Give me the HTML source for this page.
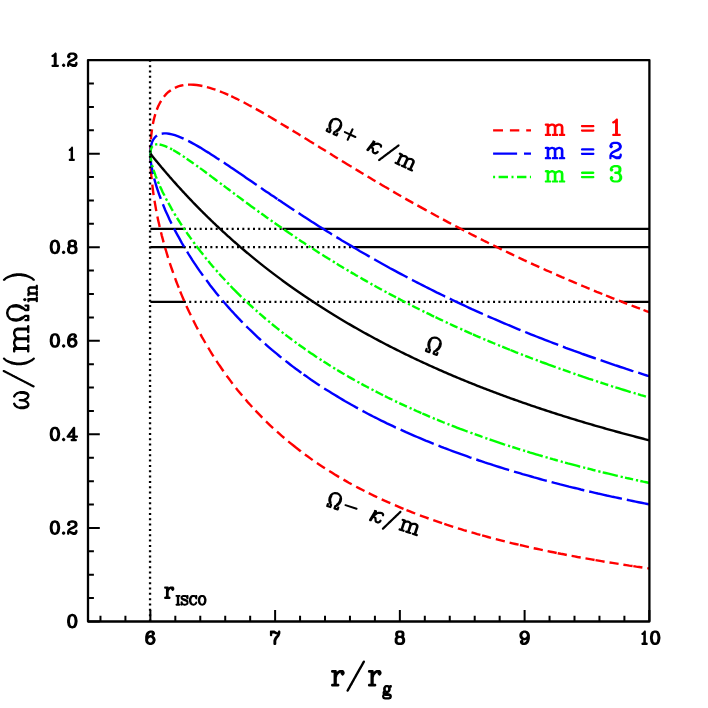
<!DOCTYPE html>
<html><head><meta charset="utf-8"><title>chart</title>
<style>html,body{margin:0;padding:0;background:#fff;width:708px;height:708px;overflow:hidden;font-family:"Liberation Sans",sans-serif}</style></head>
<body>
<svg width="708" height="708" viewBox="0 0 708 708" style="position:absolute;left:0;top:0">
<rect width="708" height="708" fill="#fff"/>
<path d="M100.47,621.50V615.70M125.42,621.50V615.70M150.37,621.50V609.90M175.32,621.50V615.70M200.27,621.50V615.70M225.22,621.50V615.70M250.17,621.50V615.70M275.12,621.50V609.90M300.07,621.50V615.70M325.01,621.50V615.70M349.96,621.50V615.70M374.91,621.50V615.70M399.86,621.50V609.90M424.81,621.50V615.70M449.76,621.50V615.70M474.71,621.50V615.70M499.66,621.50V615.70M524.61,621.50V609.90M549.55,621.50V615.70M574.50,621.50V615.70M599.45,621.50V615.70M624.40,621.50V615.70M649.35,621.50V609.90M88.00,621.50H99.80M88.00,598.11H93.90M88.00,574.72H93.90M88.00,551.33H93.90M88.00,527.93H99.80M88.00,504.54H93.90M88.00,481.15H93.90M88.00,457.76H93.90M88.00,434.37H99.80M88.00,410.98H93.90M88.00,387.58H93.90M88.00,364.19H93.90M88.00,340.80H99.80M88.00,317.41H93.90M88.00,294.02H93.90M88.00,270.62H93.90M88.00,247.23H99.80M88.00,223.84H93.90M88.00,200.45H93.90M88.00,177.06H93.90M88.00,153.67H99.80M88.00,130.27H93.90M88.00,106.88H93.90M88.00,83.49H93.90M88.00,60.10H99.80" stroke="#000" stroke-width="2" fill="none"/>
<path d="M183.90,301.95H622.34" stroke="#000" stroke-width="2.2" stroke-dasharray="2.0 3.33" fill="none"/>
<path d="M150.37,301.95H185.20M621.84,301.95H649.35" stroke="#000" stroke-width="2.3" fill="none"/>
<path d="M183.70,247.20H353.28" stroke="#000" stroke-width="2.2" stroke-dasharray="2.0 3.33" fill="none"/>
<path d="M150.37,247.20H185.20M352.78,247.20H649.35" stroke="#000" stroke-width="2.3" fill="none"/>
<path d="M183.70,228.80H282.97" stroke="#000" stroke-width="2.2" stroke-dasharray="2.0 3.33" fill="none"/>
<path d="M150.37,228.80H185.20M282.47,228.80H649.35" stroke="#000" stroke-width="2.3" fill="none"/>
<path d="M150.4,153.7L150.4,150.2L150.5,146.7L150.6,144.7M150.9,139.4L151.2,135.9L151.6,132.5L152.0,129.3M152.9,124.1L153.6,120.6L154.4,117.3L155.3,114.2M156.8,109.8L158.1,106.5L159.6,103.5L161.1,100.8M163.9,96.7L166.1,94.2L168.4,92.0L170.8,90.2M174.9,87.8L177.6,86.6L180.5,85.7L183.4,85.1M188.0,84.6L190.8,84.6L193.7,84.7L196.7,85.0L199.8,85.5L202.4,86.0M206.9,87.1L209.8,87.9L212.7,88.8L215.5,89.7M219.9,91.4L222.7,92.5L225.5,93.6L228.3,94.9M231.2,96.2L233.9,97.5L236.7,98.8L239.4,100.2M243.6,102.3L246.3,103.7L249.0,105.2L251.7,106.6M255.8,108.9L258.5,110.4L261.2,111.9L263.8,113.4M267.9,115.8L270.5,117.3L273.2,118.9L275.9,120.5L276.6,120.9M280.7,123.4L283.3,125.0L286.0,126.6L288.6,128.1M292.6,130.6L295.3,132.2L297.9,133.8L300.5,135.4M304.6,137.9L307.2,139.5L309.8,141.2L312.4,142.8L314.0,143.8M318.1,146.3L320.7,147.9L323.4,149.5L325.9,151.1M330.0,153.6L332.6,155.3L335.3,156.9L337.8,158.5M341.9,161.0L344.5,162.6L347.2,164.2L349.8,165.8L351.6,166.8M355.6,169.3L358.3,170.9L360.9,172.5L363.5,174.1M367.6,176.5L370.2,178.1L372.9,179.7L375.5,181.2M379.6,183.6L382.2,185.2L384.9,186.8L387.6,188.3L389.1,189.2M393.2,191.6L395.9,193.2L398.5,194.7L401.2,196.2M405.3,198.6L407.9,200.1L410.6,201.6L413.3,203.1M417.4,205.4L420.1,206.9L422.8,208.4L425.5,209.9L426.7,210.5M430.8,212.8L433.5,214.3L436.2,215.8L438.9,217.2M443.0,219.4L445.7,220.9L448.4,222.4L451.1,223.8M455.3,226.0L458.0,227.4L460.7,228.8L463.5,230.2L464.2,230.6M468.4,232.8L471.1,234.2L473.9,235.6L476.6,237.0M480.8,239.1L483.5,240.5L486.2,241.8L488.9,243.2M493.2,245.3L495.9,246.6L498.6,248.0L501.4,249.3L501.8,249.5M506.0,251.5L508.8,252.9L511.5,254.2L514.2,255.5M518.5,257.5L521.3,258.8L524.0,260.1L526.7,261.3M531.0,263.3L533.8,264.6L536.6,265.8L539.3,267.1M543.6,269.0L546.4,270.3L549.2,271.5L551.9,272.7M556.2,274.6L559.0,275.8L561.8,277.1L564.5,278.2M568.5,280.0L571.4,281.2L574.2,282.4L576.9,283.5M581.2,285.3L584.0,286.5L586.8,287.7L589.6,288.8M593.9,290.6L596.7,291.8L599.5,292.9L602.3,294.0M606.0,295.5L608.8,296.6L611.7,297.8L614.4,298.9M618.8,300.6L621.6,301.7L624.4,302.8L627.2,303.8M631.6,305.5L634.4,306.6L637.2,307.7L640.0,308.7M643.5,310.0L646.3,311.1L649.4,312.2" fill="none" stroke="#ff0000" stroke-width="2.4"/>
<path d="M150.4,153.7L150.4,157.1L150.5,160.5L150.6,163.0M150.8,168.6L151.1,172.0L151.3,175.4L151.7,179.1M152.3,184.7L152.7,188.1L153.1,191.5L153.6,195.2M154.5,200.7L155.1,204.1L155.7,207.5L156.3,211.1M157.4,216.6L158.1,219.9L158.9,223.3L159.7,226.9M161.0,232.3L161.8,235.6L162.7,238.9L163.6,242.4M165.1,247.8L166.1,251.0L167.1,254.3L168.1,257.8M169.8,263.1L170.9,266.3L172.0,269.5L173.2,272.9M175.1,278.1L176.2,281.3L177.4,284.4L178.8,287.8M180.2,291.5L181.5,294.6L182.8,297.7L184.2,301.0M186.4,306.0L187.8,309.1L189.2,312.1L190.8,315.3M193.2,320.2L194.7,323.2L196.2,326.2L197.9,329.4M200.4,334.2L202.0,337.1L203.7,340.0L205.4,343.0M208.2,347.7L209.9,350.5L211.6,353.3L213.5,356.3M216.4,360.9L218.2,363.6L220.1,366.3L221.9,369.0L223.5,371.3M226.6,375.7L228.6,378.3L230.5,380.9L232.6,383.7M235.9,387.9L237.9,390.4L240.0,392.9L242.2,395.6M245.6,399.6L247.7,402.1L249.9,404.5L252.2,407.0M255.5,410.6L257.7,412.9L259.9,415.2L262.3,417.7M266.0,421.4L268.3,423.6L270.6,425.8L273.1,428.1M277.0,431.6L279.3,433.7L281.7,435.8L284.3,438.0M288.2,441.4L290.7,443.4L293.1,445.3L295.6,447.3L298.1,449.2L300.6,451.2L300.8,451.4M304.9,454.5L307.5,456.3L310.0,458.1L312.7,460.1M316.9,463.0L319.5,464.7L322.1,466.4L324.9,468.3M329.2,471.0L331.8,472.6L334.4,474.3L337.1,475.9L339.1,477.1M343.5,479.6L346.1,481.1L348.8,482.7L351.7,484.3M356.2,486.7L358.9,488.1L361.6,489.5L364.5,491.0M368.7,493.1L371.5,494.5L374.2,495.8L377.2,497.3M381.7,499.4L384.5,500.7L387.3,501.9L390.3,503.2M394.9,505.2L397.7,506.4L400.5,507.6L403.5,508.9M406.5,510.1L409.3,511.2L412.2,512.3L415.2,513.5M419.9,515.3L422.7,516.3L425.6,517.4L428.6,518.5M433.3,520.2L436.2,521.2L439.0,522.1L442.1,523.2M444.3,523.9L447.2,524.9L450.1,525.8L453.2,526.8M457.9,528.3L460.8,529.2L463.6,530.1L466.8,531.0M471.5,532.4L474.4,533.2L477.3,534.1L480.4,534.9M482.1,535.4L485.0,536.2L487.9,537.0L491.0,537.8M495.8,539.1L498.8,539.8L501.7,540.6L504.8,541.4M509.6,542.6L512.5,543.3L515.4,544.0L518.6,544.7M519.9,545.0L522.8,545.7L525.8,546.4L528.9,547.1M533.7,548.2L536.7,548.8L539.6,549.4L542.8,550.1M547.6,551.1L550.5,551.7L553.5,552.3L556.7,553.0M557.7,553.2L560.7,553.8L563.6,554.3L566.8,555.0M571.6,555.9L574.6,556.4L577.5,557.0L580.7,557.5M585.5,558.4L588.5,558.9L591.4,559.4L594.6,560.0M595.5,560.1L598.5,560.6L601.4,561.1L604.6,561.7M609.5,562.5L612.4,562.9L615.4,563.4L618.6,563.9M623.4,564.7L626.4,565.1L629.3,565.6L632.6,566.0M633.3,566.1L636.3,566.6L639.2,567.0L642.4,567.5M647.3,568.1L648.3,568.3L649.4,568.4" fill="none" stroke="#ff0000" stroke-width="2.4"/>
<path d="M150.4,153.7L150.6,149.4L151.1,145.6L152.0,142.3L153.3,139.5L155.0,137.2L157.0,135.5M161.7,133.7L163.9,133.4L166.4,133.4L169.0,133.8L171.9,134.4L174.9,135.2L178.2,136.4L181.7,137.8L183.6,138.7M188.2,140.9L190.5,142.1L192.8,143.4L195.3,144.7L197.7,146.1L200.3,147.6L202.9,149.2L205.6,150.9L208.4,152.6L211.2,154.4L214.1,156.2L217.0,158.2L219.5,159.8M223.8,162.6L226.2,164.2L228.6,165.8L231.0,167.5L233.4,169.1L235.9,170.8L238.5,172.6L241.1,174.3L243.7,176.1L246.3,177.9L249.0,179.7L251.7,181.6L254.5,183.5L256.7,185.0M261.0,187.9L263.5,189.7L266.0,191.4L268.6,193.1L271.2,194.9L273.8,196.6L276.5,198.4L277.4,199.0M277.8,199.4L280.4,201.0L282.9,202.8L285.5,204.5L288.1,206.2L290.7,207.9L293.4,209.7L294.3,210.3M298.6,213.1L301.1,214.8L303.7,216.4L306.2,218.1L308.8,219.7L311.4,221.4L314.0,223.0L316.6,224.7L319.2,226.4L321.9,228.1L324.6,229.7L327.3,231.4L330.0,233.1L332.0,234.4M336.4,237.1L339.0,238.6L341.5,240.2L344.1,241.7L346.7,243.3L349.4,244.9L352.0,246.4L354.7,248.0L357.3,249.6L360.0,251.2L362.7,252.7L365.5,254.3L368.2,255.9L369.7,256.8M374.2,259.3L376.8,260.8L379.5,262.3L382.1,263.7L384.8,265.2L387.5,266.7L390.1,268.2L392.8,269.6L395.6,271.1L398.3,272.6L401.1,274.1L403.8,275.5L406.6,277.0L407.5,277.5M412.0,279.9L414.7,281.2L417.4,282.6L420.1,284.0L422.8,285.4L425.5,286.8L428.2,288.1L431.0,289.5L433.7,290.9L436.5,292.3L439.3,293.6L442.1,295.0L444.9,296.4L445.2,296.5M449.8,298.7L452.5,300.0L455.3,301.3L458.0,302.6L460.7,303.9L463.5,305.2L466.3,306.5L469.1,307.8L471.9,309.1L474.7,310.3L477.5,311.6L480.3,312.9L482.9,314.0M487.5,316.1L490.3,317.3L493.1,318.5L495.8,319.7L498.6,320.9L501.4,322.1L504.2,323.3L507.1,324.5L509.9,325.7L512.7,326.9L515.6,328.1L518.5,329.3L520.5,330.1M525.2,332.0L528.0,333.2L530.8,334.3L533.6,335.4L536.4,336.5L539.2,337.6L542.0,338.7L544.9,339.8L547.7,340.9L550.6,342.0L553.4,343.1L556.3,344.2L558.2,344.9M562.9,346.7L565.7,347.8L568.5,348.8L571.4,349.8L574.2,350.9L577.0,351.9L579.9,352.9L582.7,354.0L585.6,355.0L588.4,356.0L591.3,357.0L594.2,358.0L595.8,358.6M600.6,360.2L603.4,361.2L606.2,362.2L609.1,363.2L611.9,364.1L614.8,365.1L617.7,366.0L620.5,367.0L623.4,367.9L626.3,368.9L629.2,369.8L632.1,370.8L633.4,371.2M638.2,372.7L641.1,373.6L644.0,374.6L646.8,375.5L649.4,376.2" fill="none" stroke="#0000ff" stroke-width="2.4"/>
<path d="M150.4,153.7L150.4,156.6L150.7,159.8L151.0,163.1L151.6,166.6L152.3,170.3L153.1,174.0M154.2,178.5L155.0,181.5L155.9,184.6L156.9,187.8L158.0,191.1L159.1,194.4L160.4,197.8L160.8,198.9M162.9,204.2L164.1,207.2L165.3,210.2L166.7,213.2L168.1,216.3L169.5,219.4L171.0,222.5L171.6,223.6M174.1,228.6L175.5,231.4L177.1,234.3L178.7,237.2L180.3,240.1L181.9,243.1L183.7,246.0L184.2,247.0M187.1,251.7L188.8,254.5L190.5,257.2L192.2,259.9L194.0,262.6L195.9,265.4L197.7,268.1L199.6,270.9L201.6,273.6L203.0,275.7M206.3,280.1L208.2,282.6L210.1,285.2L212.1,287.8L214.1,290.3L216.2,292.9L218.3,295.4L219.0,296.3M222.5,300.4L224.5,302.8L226.6,305.2L228.7,307.6L230.8,310.0L233.0,312.3L235.1,314.7L237.4,317.1L239.6,319.4L241.9,321.8L242.6,322.5M246.3,326.3L248.6,328.5L250.9,330.7L253.2,332.9L255.5,335.1L257.8,337.3L260.2,339.5L261.0,340.2M264.9,343.7L267.3,345.8L269.6,347.8L272.0,349.9L274.4,351.9L276.9,353.9L279.3,356.0L281.4,357.6M285.5,360.9L288.0,362.8L290.4,364.7L292.9,366.6L295.4,368.5L297.9,370.3L300.5,372.2L301.4,372.9M303.5,374.4L306.0,376.1L308.5,377.9L311.1,379.7L313.7,381.4L316.3,383.2L318.9,384.9L319.8,385.5M324.2,388.4L326.7,390.0L329.3,391.6L331.9,393.2L334.5,394.8L337.2,396.4L339.8,398.0L342.5,399.6L345.2,401.2L347.9,402.7L350.6,404.3L353.3,405.8L356.1,407.4L358.0,408.4M362.5,410.9L365.1,412.3L367.8,413.7L370.5,415.1L373.2,416.5L375.9,417.8L378.6,419.2L381.3,420.6L384.1,421.9L386.9,423.3L389.7,424.6L392.5,425.9L395.3,427.3L395.9,427.5M400.6,429.7L403.3,430.9L406.0,432.2L408.8,433.4L411.6,434.6L414.4,435.8L417.2,437.0L420.0,438.2L422.8,439.4L425.6,440.6L428.5,441.7L431.4,442.9L433.7,443.8M438.5,445.7L441.2,446.8L444.0,447.9L446.8,448.9L449.6,450.0L452.5,451.1L455.3,452.1L458.2,453.2L461.0,454.2L463.9,455.2L466.8,456.2L469.7,457.3L471.5,457.9M476.3,459.5L479.1,460.5L481.9,461.4L484.7,462.4L487.6,463.3L490.4,464.2L493.3,465.2L496.2,466.1L499.1,467.0L502.0,467.9L504.9,468.8L507.8,469.7L509.1,470.1M514.0,471.6L516.8,472.4L519.7,473.2L522.5,474.1L525.4,474.9L528.3,475.7L531.2,476.5L534.1,477.4L537.0,478.2L539.9,479.0L542.9,479.8L545.8,480.6L546.8,480.8M551.6,482.1L554.5,482.9L557.4,483.6L560.3,484.4L563.2,485.1L566.1,485.8L569.0,486.6L571.9,487.3L574.9,488.0L577.8,488.7L580.8,489.5L583.7,490.2L584.3,490.3M589.2,491.5L592.1,492.1L595.0,492.8L597.9,493.5L600.8,494.1L603.8,494.8L606.7,495.5L609.6,496.1L612.6,496.8L615.5,497.4L618.5,498.0L621.5,498.7L621.9,498.8M626.8,499.8L629.7,500.4L632.7,501.0L635.6,501.6L638.5,502.2L641.4,502.8L644.4,503.4L647.4,504.0L649.4,504.4" fill="none" stroke="#0000ff" stroke-width="2.4"/>
<path d="M150.4,153.7L150.8,149.8L151.9,146.9L152.6,146.1M155.1,144.6L156.1,144.4L157.3,144.3M159.6,144.5L162.2,145.1L165.1,146.1L167.4,147.1M170.1,148.4L171.1,148.9L172.1,149.5M173.1,150.0L175.6,151.5L178.3,153.1L180.3,154.4M182.9,156.1L183.8,156.7L184.8,157.3M186.7,158.7L189.2,160.4L191.8,162.2L193.7,163.6M196.2,165.4L197.1,166.0L198.1,166.7M200.0,168.1L202.5,169.9L205.0,171.8L206.9,173.2M209.3,175.0L211.8,176.9L214.3,178.7L216.9,180.7L217.5,181.1M219.9,183.0L220.9,183.7L221.8,184.3M223.7,185.8L226.2,187.6L228.7,189.5L230.6,190.9M233.0,192.8L233.9,193.4L234.9,194.1M236.8,195.6L239.3,197.4L241.8,199.3L243.7,200.7M246.1,202.5L248.6,204.3L251.1,206.2L253.7,208.0L255.0,209.0M257.5,210.8L258.4,211.5L259.4,212.1M261.3,213.5L263.8,215.3L266.4,217.2L268.3,218.5M270.7,220.3L271.7,220.9L272.6,221.6M274.6,223.0L277.1,224.7L279.7,226.5L281.6,227.8M284.1,229.6L286.6,231.3L289.2,233.1L291.8,234.8L292.6,235.4M295.1,237.1L296.1,237.7L297.0,238.4M299.0,239.7L301.6,241.4L304.2,243.1L306.1,244.4M308.7,246.0L309.6,246.7L310.6,247.3M312.6,248.6L315.2,250.3L317.8,251.9L319.7,253.2M322.3,254.8L324.9,256.4L327.5,258.1L330.3,259.8M332.8,261.3L333.8,261.9L334.8,262.5M336.8,263.8L339.4,265.4L342.1,267.0L344.0,268.2M346.6,269.7L347.6,270.3L348.6,270.9M350.6,272.1L353.3,273.6L355.9,275.2L357.9,276.3M360.5,277.8L363.2,279.4L365.9,280.9L367.9,282.0M370.5,283.5L371.5,284.1L372.4,284.6M374.5,285.8L377.2,287.3L379.9,288.7L381.9,289.8M384.5,291.3L385.5,291.8L386.5,292.3M388.6,293.5L391.3,294.9L394.0,296.3L396.0,297.4M398.0,298.4L400.7,299.9L403.4,301.3L405.5,302.3M408.1,303.7L409.1,304.2L410.1,304.7M412.2,305.8L415.0,307.2L417.7,308.5L419.7,309.5M422.4,310.9L423.4,311.4L424.4,311.9M426.5,312.9L429.3,314.2L432.0,315.6L434.1,316.6M435.5,317.2L438.2,318.5L441.0,319.8L443.0,320.8M445.7,322.1L446.8,322.5L447.8,323.0M449.9,324.0L452.7,325.3L455.5,326.6L457.5,327.5M460.2,328.7L461.3,329.2L462.3,329.6M464.4,330.6L467.2,331.8L470.0,333.1L472.1,334.0M472.9,334.3L475.7,335.6L478.5,336.8L480.6,337.7M483.3,338.8L484.4,339.3L485.4,339.7M487.5,340.6L490.4,341.8L493.2,343.0L495.3,343.8M498.0,345.0L499.0,345.4L500.1,345.8M502.2,346.7L505.1,347.9L507.9,349.0L510.0,349.8M510.4,350.0L513.2,351.1L516.1,352.3L518.2,353.1M520.9,354.2L522.0,354.6L523.0,355.0M525.2,355.8L528.0,356.9L530.8,358.0L532.9,358.8M535.7,359.8L536.8,360.2L537.8,360.6M540.0,361.4L542.8,362.5L545.7,363.5L548.5,364.6L551.4,365.6L554.2,366.7L555.7,367.2M558.5,368.2L559.5,368.6L560.6,368.9M562.8,369.7L565.6,370.7L568.5,371.7L570.6,372.5M573.4,373.4L574.5,373.8L575.5,374.2M577.7,374.9L580.5,375.9L583.4,376.9L586.3,377.8L589.1,378.8L592.0,379.7L593.2,380.1M596.0,381.1L597.1,381.4L598.1,381.8M600.4,382.5L603.2,383.4L606.1,384.3L608.2,385.0M611.0,385.9L612.1,386.3L613.2,386.6M615.4,387.3L618.3,388.2L621.1,389.1L624.0,390.0L626.9,390.9L629.8,391.8L630.8,392.1M633.6,392.9L634.6,393.2L635.7,393.5M637.9,394.2L640.8,395.1L643.7,395.9L645.9,396.6" fill="none" stroke="#00ff00" stroke-width="2.4"/>
<path d="M150.4,153.7L150.5,156.8L151.1,160.3L151.3,161.7M152.1,165.0L152.4,166.1L152.8,167.4M153.5,169.9L154.6,172.9L155.7,176.1L156.7,178.6M157.9,181.6L158.4,182.7L158.9,183.9M159.9,186.2L161.3,189.1L162.7,192.2L164.3,195.2L164.4,195.6M165.9,198.5L166.5,199.6L167.1,200.6M168.3,202.9L169.9,205.7L171.5,208.6L172.8,210.8M174.4,213.5L175.0,214.6L175.7,215.6M177.0,217.8L178.7,220.5L180.5,223.3L181.8,225.4M183.6,228.0L184.3,229.0L184.9,230.0M186.4,232.1L188.2,234.8L190.1,237.4L191.5,239.4M193.4,242.0L194.1,242.9L194.8,243.9M196.3,245.9L198.3,248.5L200.2,251.0L202.3,253.6L203.2,254.8M205.2,257.3L205.9,258.2L206.7,259.1M208.3,261.0L210.3,263.5L212.4,266.0L214.0,267.8M216.0,270.2L216.8,271.0L217.6,271.9M219.2,273.8L221.4,276.2L223.6,278.5L225.2,280.3M227.3,282.5L228.1,283.4L228.9,284.3M230.6,286.0L232.8,288.3L235.1,290.6L237.3,292.8L239.6,295.1L241.3,296.8M243.6,298.9L244.4,299.7L245.2,300.5M247.0,302.2L249.3,304.4L251.7,306.5L253.4,308.1M255.7,310.2L256.6,310.9L257.4,311.7M259.3,313.3L261.7,315.4L264.1,317.5L265.8,319.0M268.2,320.9L269.1,321.7L270.0,322.4M271.8,324.0L274.3,326.0L276.7,327.9L279.3,330.0M281.7,331.8L282.6,332.6L283.5,333.3M285.4,334.7L287.9,336.6L290.4,338.5L292.2,339.9M294.7,341.7L295.6,342.4L296.5,343.1M298.5,344.5L301.0,346.3L303.6,348.1L305.5,349.4M308.0,351.1L310.5,352.9L313.1,354.6L315.7,356.4L317.1,357.3M319.6,358.9L320.5,359.5L321.5,360.2M323.5,361.4L326.1,363.1L328.7,364.8L330.7,366.0M333.2,367.6L334.2,368.2L335.2,368.8M337.2,370.0L339.9,371.6L342.5,373.2L344.5,374.3M347.1,375.8L349.7,377.4L352.4,378.9L354.8,380.2M357.4,381.7L358.4,382.2L359.4,382.8M361.4,383.9L364.1,385.4L366.8,386.8L368.9,387.9M371.5,389.3L372.5,389.8L373.5,390.3M375.6,391.4L378.3,392.8L381.1,394.2L383.1,395.2M384.9,396.1L387.6,397.5L390.4,398.8L392.4,399.8M395.1,401.1L396.1,401.6L397.1,402.1M399.3,403.1L402.0,404.4L404.8,405.7L406.9,406.6M409.6,407.9L410.6,408.3L411.6,408.8M413.7,409.7L416.5,411.0L419.3,412.2L421.4,413.1M422.3,413.5L425.1,414.7L427.9,415.9L430.0,416.8M432.8,417.9L433.8,418.4L434.8,418.8M437.0,419.7L439.8,420.8L442.6,422.0L444.7,422.8M447.5,423.9L448.5,424.3L449.5,424.7M451.7,425.6L454.6,426.7L457.4,427.8L460.2,428.9L463.1,429.9L466.0,431.0L467.6,431.6M470.4,432.6L471.4,433.0L472.5,433.4M474.7,434.2L477.5,435.2L480.4,436.2L482.5,437.0M485.3,438.0L486.3,438.3L487.4,438.7M489.6,439.5L492.4,440.4L495.3,441.4L498.2,442.4L501.0,443.3L503.9,444.3L505.2,444.7M508.0,445.6L509.0,445.9L510.1,446.3M512.3,447.0L515.2,447.9L518.1,448.8L520.2,449.5M523.0,450.4L524.1,450.7L525.1,451.0M527.3,451.7L530.2,452.6L533.1,453.4L536.0,454.3L538.9,455.2L541.8,456.0L542.7,456.3M545.5,457.1L546.6,457.4L547.7,457.7M549.9,458.3L552.8,459.2L555.7,460.0L557.9,460.6M560.7,461.4L561.7,461.7L562.8,462.0M565.0,462.6L567.9,463.4L570.8,464.1L573.8,464.9L576.7,465.7L579.6,466.5L580.2,466.6M583.1,467.4L584.1,467.6L585.2,467.9M587.5,468.5L590.4,469.2L593.3,470.0L595.5,470.5M598.3,471.2L599.4,471.5L600.5,471.7M602.7,472.3L605.6,473.0L608.5,473.7L611.5,474.4L614.4,475.1L617.3,475.8L617.8,475.9M620.6,476.6L621.7,476.8L622.8,477.1M625.0,477.6L628.0,478.3L630.9,478.9L633.1,479.4M635.9,480.1L637.0,480.3L638.1,480.5M640.3,481.0L643.3,481.7L646.2,482.3L649.4,483.0" fill="none" stroke="#00ff00" stroke-width="2.4"/>
<path d="M150.37,153.67 L150.37,153.67 L150.38,153.68 L150.39,153.69 L150.40,153.71 L150.42,153.73 L150.44,153.76 L150.47,153.79 L150.50,153.83 L150.53,153.87 L150.57,153.92 L150.61,153.97 L150.66,154.03 L150.71,154.09 L150.76,154.16 L150.82,154.23 L150.89,154.31 L150.95,154.39 L151.02,154.48 L151.10,154.57 L151.17,154.67 L151.26,154.77 L151.34,154.88 L151.43,154.99 L151.53,155.11 L151.62,155.23 L151.73,155.35 L151.83,155.49 L151.94,155.62 L152.06,155.77 L152.18,155.91 L152.30,156.06 L152.42,156.22 L152.55,156.38 L152.69,156.55 L152.83,156.72 L152.97,156.89 L153.12,157.08 L153.27,157.26 L153.42,157.45 L153.58,157.65 L153.74,157.85 L153.91,158.05 L154.08,158.26 L154.25,158.47 L154.43,158.69 L154.61,158.92 L154.80,159.15 L154.99,159.38 L155.18,159.62 L155.38,159.86 L155.58,160.11 L155.79,160.36 L156.00,160.62 L156.22,160.88 L156.43,161.14 L156.66,161.41 L156.88,161.69 L157.11,161.97 L157.35,162.25 L157.59,162.54 L157.83,162.83 L158.08,163.13 L158.33,163.43 L158.58,163.74 L158.84,164.05 L159.10,164.37 L159.37,164.69 L159.64,165.01 L159.91,165.34 L160.19,165.68 L160.47,166.01 L160.76,166.36 L161.05,166.70 L161.35,167.05 L161.64,167.41 L161.95,167.77 L162.25,168.13 L162.56,168.50 L162.88,168.87 L163.20,169.25 L163.52,169.63 L163.85,170.01 L164.18,170.40 L164.51,170.80 L164.85,171.19 L165.19,171.59 L165.54,172.00 L165.89,172.41 L166.25,172.82 L166.60,173.24 L166.97,173.66 L167.33,174.09 L167.70,174.52 L168.08,174.95 L168.46,175.39 L168.84,175.83 L169.23,176.27 L169.62,176.72 L170.01,177.18 L170.41,177.63 L170.81,178.09 L171.22,178.56 L171.63,179.02 L172.05,179.50 L172.47,179.97 L172.89,180.45 L173.32,180.93 L173.75,181.42 L174.18,181.91 L174.62,182.40 L175.06,182.90 L175.51,183.40 L175.96,183.90 L176.42,184.41 L176.87,184.92 L177.34,185.44 L177.80,185.96 L178.27,186.48 L178.75,187.00 L179.23,187.53 L179.71,188.06 L180.20,188.60 L180.69,189.13 L181.18,189.67 L181.68,190.22 L182.19,190.77 L182.69,191.32 L183.20,191.87 L183.72,192.43 L184.24,192.99 L184.76,193.55 L185.29,194.12 L185.82,194.69 L186.35,195.26 L186.89,195.83 L187.44,196.41 L187.98,196.99 L188.53,197.58 L189.09,198.17 L189.65,198.76 L190.21,199.35 L190.78,199.94 L191.35,200.54 L191.93,201.14 L192.50,201.75 L193.09,202.35 L193.67,202.96 L194.27,203.57 L194.86,204.19 L195.46,204.80 L196.06,205.42 L196.67,206.05 L197.28,206.67 L197.90,207.30 L198.52,207.93 L199.14,208.56 L199.77,209.19 L200.40,209.83 L201.03,210.47 L201.67,211.11 L202.32,211.76 L202.96,212.40 L203.61,213.05 L204.27,213.70 L204.93,214.35 L205.59,215.01 L206.26,215.67 L206.93,216.33 L207.61,216.99 L208.29,217.65 L208.97,218.32 L209.66,218.98 L210.35,219.65 L211.04,220.33 L211.74,221.00 L212.45,221.68 L213.15,222.35 L213.86,223.03 L214.58,223.71 L215.30,224.40 L216.02,225.08 L216.75,225.77 L217.48,226.46 L218.22,227.15 L218.96,227.84 L219.70,228.53 L220.45,229.23 L221.20,229.93 L221.95,230.63 L222.71,231.33 L223.48,232.03 L224.24,232.73 L225.02,233.44 L225.79,234.14 L226.57,234.85 L227.35,235.56 L228.14,236.27 L228.93,236.98 L229.73,237.70 L230.53,238.41 L231.33,239.13 L232.14,239.84 L232.95,240.56 L233.77,241.28 L234.59,242.00 L235.41,242.73 L236.24,243.45 L237.07,244.17 L237.91,244.90 L238.75,245.63 L239.59,246.36 L240.44,247.09 L241.29,247.82 L242.14,248.55 L243.00,249.28 L243.87,250.01 L244.73,250.75 L245.61,251.48 L246.48,252.22 L247.36,252.96 L248.25,253.69 L249.13,254.43 L250.03,255.17 L250.92,255.91 L251.82,256.65 L252.72,257.39 L253.63,258.14 L254.54,258.88 L255.46,259.62 L256.38,260.37 L257.30,261.11 L258.23,261.86 L259.16,262.61 L260.10,263.35 L261.04,264.10 L261.98,264.85 L262.93,265.60 L263.88,266.35 L264.84,267.10 L265.80,267.85 L266.76,268.60 L267.73,269.35 L268.70,270.10 L269.68,270.85 L270.66,271.61 L271.64,272.36 L272.63,273.11 L273.62,273.87 L274.62,274.62 L275.62,275.37 L276.62,276.13 L277.63,276.88 L278.64,277.64 L279.66,278.39 L280.68,279.15 L281.70,279.90 L282.73,280.66 L283.76,281.41 L284.80,282.17 L285.84,282.92 L286.88,283.68 L287.93,284.43 L288.98,285.19 L290.04,285.95 L291.10,286.70 L292.16,287.46 L293.23,288.21 L294.30,288.97 L295.38,289.73 L296.46,290.48 L297.54,291.24 L298.63,291.99 L299.72,292.75 L300.82,293.50 L301.92,294.26 L303.02,295.01 L304.13,295.77 L305.24,296.52 L306.36,297.27 L307.48,298.03 L308.60,298.78 L309.73,299.53 L310.86,300.29 L312.00,301.04 L313.14,301.79 L314.28,302.55 L315.43,303.30 L316.59,304.05 L317.74,304.80 L318.90,305.55 L320.07,306.30 L321.23,307.05 L322.41,307.80 L323.58,308.55 L324.76,309.30 L325.95,310.04 L327.14,310.79 L328.33,311.54 L329.52,312.28 L330.72,313.03 L331.93,313.78 L333.14,314.52 L334.35,315.27 L335.57,316.01 L336.79,316.75 L338.01,317.49 L339.24,318.24 L340.47,318.98 L341.71,319.72 L342.95,320.46 L344.19,321.20 L345.44,321.94 L346.69,322.67 L347.95,323.41 L349.21,324.15 L350.48,324.88 L351.74,325.62 L353.02,326.35 L354.29,327.09 L355.57,327.82 L356.86,328.55 L358.15,329.28 L359.44,330.01 L360.74,330.74 L362.04,331.47 L363.34,332.20 L364.65,332.93 L365.96,333.65 L367.28,334.38 L368.60,335.10 L369.92,335.82 L371.25,336.55 L372.58,337.27 L373.92,337.99 L375.26,338.71 L376.61,339.43 L377.96,340.15 L379.31,340.86 L380.66,341.58 L382.03,342.30 L383.39,343.01 L384.76,343.72 L386.13,344.44 L387.51,345.15 L388.89,345.86 L390.27,346.57 L391.66,347.28 L393.05,347.98 L394.45,348.69 L395.85,349.39 L397.26,350.10 L398.67,350.80 L400.08,351.50 L401.50,352.21 L402.92,352.91 L404.34,353.60 L405.77,354.30 L407.20,355.00 L408.64,355.69 L410.08,356.39 L411.52,357.08 L412.97,357.77 L414.43,358.46 L415.88,359.15 L417.34,359.84 L418.81,360.53 L420.28,361.22 L421.75,361.90 L423.23,362.59 L424.71,363.27 L426.19,363.95 L427.68,364.63 L429.18,365.31 L430.67,365.99 L432.17,366.67 L433.68,367.34 L435.19,368.02 L436.70,368.69 L438.22,369.36 L439.74,370.03 L441.26,370.70 L442.79,371.37 L444.33,372.04 L445.86,372.71 L447.40,373.37 L448.95,374.03 L450.50,374.70 L452.05,375.36 L453.61,376.02 L455.17,376.67 L456.73,377.33 L458.30,377.99 L459.88,378.64 L461.45,379.30 L463.03,379.95 L464.62,380.60 L466.21,381.25 L467.80,381.90 L469.40,382.54 L471.00,383.19 L472.60,383.83 L474.21,384.47 L475.83,385.12 L477.44,385.76 L479.06,386.40 L480.69,387.03 L482.32,387.67 L483.95,388.30 L485.59,388.94 L487.23,389.57 L488.88,390.20 L490.53,390.83 L492.18,391.46 L493.84,392.09 L495.50,392.71 L497.16,393.33 L498.83,393.96 L500.50,394.58 L502.18,395.20 L503.86,395.82 L505.55,396.44 L507.24,397.05 L508.93,397.67 L510.63,398.28 L512.33,398.89 L514.04,399.50 L515.74,400.11 L517.46,400.72 L519.18,401.32 L520.90,401.93 L522.62,402.53 L524.35,403.14 L526.08,403.74 L527.82,404.34 L529.56,404.93 L531.31,405.53 L533.06,406.13 L534.81,406.72 L536.57,407.31 L538.33,407.90 L540.10,408.49 L541.87,409.08 L543.64,409.67 L545.42,410.25 L547.20,410.84 L548.98,411.42 L550.77,412.00 L552.57,412.58 L554.36,413.16 L556.17,413.74 L557.97,414.31 L559.78,414.89 L561.59,415.46 L563.41,416.03 L565.23,416.60 L567.06,417.17 L568.89,417.74 L570.72,418.30 L572.56,418.87 L574.40,419.43 L576.25,419.99 L578.10,420.55 L579.95,421.11 L581.81,421.67 L583.67,422.23 L585.54,422.78 L587.40,423.33 L589.28,423.89 L591.16,424.44 L593.04,424.99 L594.92,425.53 L596.81,426.08 L598.71,426.63 L600.60,427.17 L602.51,427.71 L604.41,428.25 L606.32,428.79 L608.24,429.33 L610.15,429.87 L612.08,430.40 L614.00,430.94 L615.93,431.47 L617.86,432.00 L619.80,432.53 L621.74,433.06 L623.69,433.58 L625.64,434.11 L627.59,434.63 L629.55,435.16 L631.51,435.68 L633.48,436.20 L635.45,436.72 L637.42,437.23 L639.40,437.75 L641.38,438.26 L643.37,438.78 L645.36,439.29 L647.35,439.80 L649.35,440.31" fill="none" stroke="#000" stroke-width="2.4"/>
<path d="M150.05,621.50V60.10" stroke="#000" stroke-width="2.3" stroke-dasharray="2.0 3.33" fill="none"/>
<rect x="88.0" y="60.1" width="561.4" height="561.4" fill="none" stroke="#000" stroke-width="2.3" stroke-linejoin="round"/>
<path d="M493.1,130.35H531" stroke="#ff0000" stroke-width="2.4" stroke-dasharray="9.9 6.9 9.4 6.9 9" fill="none"/>
<path d="M493.1,153.6H531" stroke="#0000ff" stroke-width="2.4" stroke-dasharray="24 6.9" fill="none"/>
<path d="M493.1,177H531" stroke="#00ff00" stroke-width="2.4" stroke-dasharray="2 3.5 9.4 3.5" fill="none"/>
<path d="M14.5,-2.4L14.4,-2.3L14.1,-2.3L13.9,-2.2L13.1,-1.4L13.1,-1.4L12.9,-1.2L12.8,-0.9L12.8,-0.6L12.8,-0.6L12.8,-0.5L12.8,-0.2L13.1,0.2L13.9,1.0L14.1,1.1L14.4,1.1L14.5,1.2L14.6,1.1L14.9,1.1L15.4,0.8L16.1,0.1L16.2,-0.2L16.2,-0.5L16.2,-0.6L16.2,-0.6L16.2,-0.9L16.1,-1.2L15.9,-1.4L15.9,-1.4L15.1,-2.2L14.9,-2.3L14.6,-2.3ZM19.9,-12.8L19.4,-12.4L18.9,-11.9L18.9,-11.8L18.6,-11.5L18.0,-10.2L18.0,-9.9L17.9,-9.9L17.9,-9.2L18.0,-9.2L18.0,-8.9L18.1,-8.6L19.1,-7.7L19.4,-7.6L19.7,-7.6L19.8,-7.5L19.8,-7.6L20.1,-7.6L20.4,-7.7L21.3,-8.6L21.4,-8.9L21.4,-9.2L21.5,-9.2L21.4,-9.3L21.4,-9.6L21.1,-10.1L20.8,-10.4L21.1,-10.6L22.2,-11.0L24.1,-11.0L24.8,-10.6L25.2,-10.2L25.3,-9.9L25.5,-9.6L25.5,-9.0L25.1,-8.3L23.8,-7.4L20.4,-5.8L20.1,-5.5L18.9,-4.3L18.7,-3.9L18.6,-3.9L18.0,-2.2L18.0,-1.8L17.9,-1.8L17.9,0.0L18.0,0.1L18.0,0.4L18.1,0.6L18.5,1.0L18.8,1.1L19.1,1.1L19.1,1.2L19.2,1.1L19.5,1.1L19.8,1.0L20.1,0.6L20.2,0.4L20.3,-0.5L20.4,-0.6L20.6,-0.6L20.7,-0.4L20.9,-0.4L21.0,-0.2L23.4,1.1L23.7,1.1L23.8,1.2L26.1,1.2L26.2,1.1L26.5,1.1L26.8,1.0L27.7,0.1L28.3,-1.1L28.4,-1.7L28.4,-1.8L28.4,-2.9L28.4,-2.9L28.4,-3.2L28.2,-3.5L27.9,-3.9L27.6,-4.0L27.3,-4.0L27.2,-4.1L27.2,-4.0L26.9,-4.0L26.6,-3.9L26.2,-3.5L26.1,-3.2L26.1,-2.9L26.1,-2.9L26.1,-2.2L25.2,-1.8L24.0,-1.8L23.0,-2.2L22.9,-2.2L22.7,-2.3L22.6,-2.3L22.4,-2.4L22.2,-2.4L22.1,-2.6L21.9,-2.6L21.8,-2.7L21.6,-2.7L21.4,-2.8L20.9,-2.9L20.9,-2.9L21.6,-3.7L22.6,-4.2L22.8,-4.2L22.9,-4.3L23.1,-4.3L23.2,-4.4L23.4,-4.4L23.6,-4.6L23.7,-4.6L23.9,-4.7L24.0,-4.7L24.2,-4.8L24.3,-4.8L24.5,-4.9L25.2,-5.2L25.5,-5.4L25.6,-5.4L27.3,-6.5L27.3,-6.6L27.8,-7.0L28.4,-8.3L28.4,-8.6L28.4,-8.7L28.4,-9.9L28.4,-9.9L28.3,-10.4L27.8,-11.6L26.8,-12.6L24.8,-13.3L24.4,-13.3L24.4,-13.4L22.1,-13.4L22.0,-13.3L21.6,-13.3ZM6.8,-13.3L6.4,-13.3L6.4,-13.4L6.3,-13.3L6.0,-13.3L5.8,-13.2L4.0,-11.4L2.9,-10.9L2.5,-10.5L2.4,-10.2L2.4,-9.9L2.3,-9.9L2.4,-9.8L2.4,-9.5L2.5,-9.2L2.9,-8.9L3.1,-8.8L3.4,-8.8L3.5,-8.7L3.6,-8.8L4.1,-8.8L4.5,-9.1L4.6,-9.0L4.6,-1.2L4.6,-1.2L3.5,-1.2L3.4,-1.1L3.1,-1.1L2.9,-1.0L2.5,-0.6L2.4,-0.4L2.4,-0.1L2.3,0.0L2.4,0.1L2.4,0.4L2.5,0.6L2.9,1.0L3.1,1.1L3.4,1.1L3.5,1.2L8.7,1.2L8.8,1.1L9.1,1.1L9.3,1.0L9.7,0.6L9.8,0.4L9.8,0.1L9.9,0.0L9.8,-0.1L9.8,-0.4L9.7,-0.6L9.3,-1.0L9.1,-1.1L8.8,-1.1L8.7,-1.2L7.6,-1.2L7.6,-1.2L7.6,-12.2L7.5,-12.2L7.5,-12.6L7.4,-12.8L7.0,-13.2Z" fill="#000" fill-rule="evenodd" transform="translate(49.10,65.85)"/>
<path d="M6.8,-13.3L6.4,-13.3L6.4,-13.4L6.3,-13.3L6.0,-13.3L5.8,-13.2L4.0,-11.4L2.9,-10.9L2.5,-10.5L2.4,-10.2L2.4,-9.9L2.3,-9.9L2.4,-9.8L2.4,-9.5L2.5,-9.2L2.9,-8.9L3.1,-8.8L3.4,-8.8L3.5,-8.7L3.6,-8.8L4.1,-8.8L4.5,-9.1L4.6,-9.0L4.6,-1.2L4.6,-1.2L3.5,-1.2L3.4,-1.1L3.1,-1.1L2.9,-1.0L2.5,-0.6L2.4,-0.4L2.4,-0.1L2.3,0.0L2.4,0.1L2.4,0.4L2.5,0.6L2.9,1.0L3.1,1.1L3.4,1.1L3.5,1.2L8.7,1.2L8.8,1.1L9.1,1.1L9.3,1.0L9.7,0.6L9.8,0.4L9.8,0.1L9.9,0.0L9.8,-0.1L9.8,-0.4L9.7,-0.6L9.3,-1.0L9.1,-1.1L8.8,-1.1L8.7,-1.2L7.6,-1.2L7.6,-1.2L7.6,-12.2L7.5,-12.2L7.5,-12.6L7.4,-12.8L7.0,-13.2Z" fill="#000" fill-rule="evenodd" transform="translate(66.80,159.87) scale(0.82,1)"/>
<path d="M14.5,-2.4L14.4,-2.3L14.1,-2.3L13.9,-2.2L13.1,-1.4L13.1,-1.4L12.9,-1.2L12.8,-0.9L12.8,-0.6L12.8,-0.6L12.8,-0.5L12.8,-0.2L13.1,0.2L13.9,1.0L14.1,1.1L14.4,1.1L14.5,1.2L14.6,1.1L14.9,1.1L15.4,0.8L16.1,0.1L16.2,-0.2L16.2,-0.5L16.2,-0.6L16.2,-0.6L16.2,-0.9L16.1,-1.2L15.9,-1.4L15.9,-1.4L15.1,-2.2L14.9,-2.3L14.6,-2.3ZM21.6,-13.3L19.7,-12.6L19.2,-12.1L18.7,-11.1L18.6,-10.5L18.6,-10.4L18.6,-8.7L18.6,-8.6L18.6,-8.3L18.8,-7.9L19.2,-7.1L19.2,-7.0L18.9,-6.7L18.9,-6.6L18.6,-6.2L18.0,-5.0L18.0,-4.7L17.9,-4.6L17.9,-2.3L18.0,-2.2L18.0,-1.9L18.6,-0.7L18.9,-0.4L18.9,-0.3L19.4,0.2L19.9,0.6L21.6,1.1L22.0,1.1L22.1,1.2L24.4,1.2L24.4,1.1L24.8,1.1L26.8,0.4L27.8,-0.6L28.4,-1.9L28.4,-2.2L28.4,-2.3L28.4,-4.6L28.4,-4.7L28.4,-5.0L28.3,-5.1L28.3,-5.2L28.1,-5.8L27.9,-5.9L27.7,-6.4L27.2,-7.0L27.4,-7.5L27.4,-7.6L27.8,-8.3L27.8,-8.6L27.9,-8.7L27.9,-10.4L27.8,-10.5L27.8,-10.8L27.1,-12.2L26.8,-12.6L26.5,-12.8L24.8,-13.3L24.4,-13.3L24.4,-13.4L22.1,-13.4L22.0,-13.3ZM21.6,-5.4L22.2,-5.8L24.1,-5.8L24.9,-5.4L25.0,-5.2L25.5,-4.4L25.5,-2.6L25.1,-1.9L24.8,-1.5L24.1,-1.2L22.3,-1.2L21.6,-1.6L21.3,-1.8L20.9,-2.6L20.9,-4.4L21.2,-5.1ZM21.8,-10.7L22.3,-11.0L24.1,-11.0L24.6,-10.8L24.7,-10.6L24.9,-10.1L24.9,-9.0L24.7,-8.5L24.6,-8.4L24.1,-8.1L22.4,-8.1L21.9,-8.4L21.7,-8.6L21.5,-8.9L21.5,-10.2ZM5.2,-13.4L5.2,-13.3L4.8,-13.3L2.9,-12.6L2.4,-12.2L1.3,-10.5L1.1,-10.1L1.1,-9.8L1.1,-9.8L1.1,-9.5L1.0,-9.4L1.0,-9.2L0.9,-9.1L0.9,-8.9L0.9,-8.8L0.9,-8.6L0.8,-8.5L0.8,-8.2L0.8,-8.2L0.8,-7.9L0.7,-7.9L0.7,-7.6L0.6,-7.2L0.6,-7.1L0.6,-6.9L0.6,-5.2L0.6,-5.1L0.6,-4.9L0.6,-4.9L0.6,-4.6L0.7,-4.6L0.7,-4.3L0.8,-4.2L0.8,-4.0L0.8,-3.9L0.8,-3.7L0.9,-3.6L0.9,-3.4L0.9,-3.3L0.9,-3.1L1.0,-3.0L1.0,-2.8L1.1,-2.4L1.1,-2.1L1.3,-1.7L2.4,0.0L2.9,0.4L3.1,0.6L4.8,1.1L5.2,1.1L5.2,1.2L6.4,1.2L6.4,1.1L6.8,1.1L8.8,0.4L9.1,0.1L10.2,-1.6L10.2,-1.8L10.5,-2.2L10.5,-2.5L10.6,-2.6L10.6,-2.8L10.6,-2.9L10.6,-3.1L10.7,-3.2L10.7,-3.4L10.8,-3.5L10.8,-3.8L10.8,-3.8L10.8,-4.1L10.9,-4.1L10.9,-4.4L11.0,-4.8L11.0,-5.2L11.1,-5.2L11.1,-6.9L11.0,-7.0L11.0,-7.4L10.9,-7.5L10.9,-7.8L10.9,-7.8L10.9,-8.1L10.8,-8.1L10.8,-8.4L10.8,-8.4L10.8,-8.7L10.7,-8.8L10.5,-9.9L10.4,-10.1L10.2,-10.6L9.1,-12.2L8.8,-12.6L8.5,-12.8L6.8,-13.3L6.4,-13.3L6.4,-13.4ZM5.4,-11.0L6.1,-11.0L6.8,-10.7L7.2,-10.2L7.6,-9.3L7.6,-9.1L7.7,-9.0L7.7,-8.8L7.8,-8.7L7.8,-8.4L7.8,-8.4L7.8,-8.1L7.9,-8.1L7.9,-7.8L7.9,-7.8L7.9,-7.5L8.1,-7.1L8.1,-5.1L8.0,-5.0L8.0,-4.8L7.9,-4.7L7.9,-4.4L7.9,-4.4L7.9,-4.1L7.8,-4.1L7.6,-2.9L7.2,-1.9L6.7,-1.4L6.2,-1.2L5.4,-1.2L4.8,-1.5L4.4,-1.9L4.0,-2.8L4.0,-3.0L3.9,-3.1L3.9,-3.3L3.9,-3.4L3.9,-3.6L3.8,-3.7L3.8,-3.9L3.8,-4.0L3.8,-4.2L3.7,-4.3L3.7,-4.6L3.6,-4.6L3.6,-4.9L3.5,-5.2L3.5,-6.9L3.6,-7.0L3.6,-7.2L3.6,-7.3L3.6,-7.6L3.7,-7.6L3.7,-7.9L3.8,-7.9L3.8,-8.2L3.8,-8.2L4.0,-9.4L4.4,-10.3L4.8,-10.7Z" fill="#000" fill-rule="evenodd" transform="translate(49.10,252.98)"/>
<path d="M14.5,-2.4L14.4,-2.3L14.1,-2.3L13.9,-2.2L13.1,-1.4L13.1,-1.4L12.9,-1.2L12.8,-0.9L12.8,-0.6L12.8,-0.6L12.8,-0.5L12.8,-0.2L13.1,0.2L13.9,1.0L14.1,1.1L14.4,1.1L14.5,1.2L14.6,1.1L14.9,1.1L15.4,0.8L16.1,0.1L16.2,-0.2L16.2,-0.5L16.2,-0.6L16.2,-0.6L16.2,-0.9L16.1,-1.2L15.9,-1.4L15.9,-1.4L15.1,-2.2L14.9,-2.3L14.6,-2.3ZM25.3,-13.3L25.0,-13.3L24.9,-13.4L23.2,-13.4L23.1,-13.3L22.8,-13.3L20.8,-12.6L19.2,-10.9L18.7,-9.9L18.7,-9.7L18.6,-9.6L18.5,-9.4L18.5,-9.2L18.4,-9.1L18.4,-8.9L18.4,-8.9L18.4,-8.7L18.3,-8.6L18.3,-8.4L18.2,-8.4L18.2,-8.2L18.2,-8.1L18.2,-7.9L18.0,-7.4L18.0,-7.0L17.9,-6.9L17.9,-3.5L18.0,-3.4L18.0,-3.1L18.6,-1.6L18.6,-1.4L18.7,-1.3L18.8,-1.1L18.9,-0.9L18.9,-0.9L20.2,0.4L22.2,1.1L22.6,1.1L22.6,1.2L23.8,1.2L23.8,1.1L24.2,1.1L26.1,0.4L26.4,0.2L27.7,-1.1L27.9,-1.5L28.4,-3.0L28.4,-3.4L28.4,-3.5L28.4,-4.6L27.9,-6.1L27.5,-6.7L26.4,-7.8L26.3,-7.8L26.1,-7.9L25.9,-8.1L25.9,-8.1L26.1,-8.1L26.2,-8.1L26.5,-8.1L26.8,-8.2L27.7,-9.2L27.8,-9.5L27.8,-9.8L27.9,-9.9L27.8,-10.8L27.1,-12.2L26.8,-12.6ZM23.5,-6.4L24.2,-6.0L25.1,-5.1L25.5,-3.9L25.5,-3.6L25.1,-2.4L24.2,-1.5L23.6,-1.2L22.9,-1.2L22.2,-1.5L21.4,-2.3L20.9,-3.6L20.9,-4.0L21.3,-5.1L22.1,-5.9ZM24.9,-10.9L24.5,-10.5L24.4,-10.2L24.4,-9.9L24.3,-9.9L24.4,-9.8L24.4,-9.5L24.7,-9.0L25.4,-8.3L25.4,-8.2L24.1,-8.7L23.8,-8.7L23.8,-8.8L22.8,-8.7L21.4,-8.2L21.2,-8.2L21.4,-8.6L21.4,-8.8L21.8,-9.7L22.8,-10.7L23.4,-11.0L24.7,-11.0ZM5.2,-13.4L5.2,-13.3L4.8,-13.3L2.9,-12.6L2.4,-12.2L1.3,-10.5L1.1,-10.1L1.1,-9.8L1.1,-9.8L1.1,-9.5L1.0,-9.4L1.0,-9.2L0.9,-9.1L0.9,-8.9L0.9,-8.8L0.9,-8.6L0.8,-8.5L0.8,-8.2L0.8,-8.2L0.8,-7.9L0.7,-7.9L0.7,-7.6L0.6,-7.2L0.6,-7.1L0.6,-6.9L0.6,-5.2L0.6,-5.1L0.6,-4.9L0.6,-4.9L0.6,-4.6L0.7,-4.6L0.7,-4.3L0.8,-4.2L0.8,-4.0L0.8,-3.9L0.8,-3.7L0.9,-3.6L0.9,-3.4L0.9,-3.3L0.9,-3.1L1.0,-3.0L1.0,-2.8L1.1,-2.4L1.1,-2.1L1.3,-1.7L2.4,0.0L2.9,0.4L3.1,0.6L4.8,1.1L5.2,1.1L5.2,1.2L6.4,1.2L6.4,1.1L6.8,1.1L8.8,0.4L9.1,0.1L10.2,-1.6L10.2,-1.8L10.5,-2.2L10.5,-2.5L10.6,-2.6L10.6,-2.8L10.6,-2.9L10.6,-3.1L10.7,-3.2L10.7,-3.4L10.8,-3.5L10.8,-3.8L10.8,-3.8L10.8,-4.1L10.9,-4.1L10.9,-4.4L11.0,-4.8L11.0,-5.2L11.1,-5.2L11.1,-6.9L11.0,-7.0L11.0,-7.4L10.9,-7.5L10.9,-7.8L10.9,-7.8L10.9,-8.1L10.8,-8.1L10.8,-8.4L10.8,-8.4L10.8,-8.7L10.7,-8.8L10.5,-9.9L10.4,-10.1L10.2,-10.6L9.1,-12.2L8.8,-12.6L8.5,-12.8L6.8,-13.3L6.4,-13.3L6.4,-13.4ZM5.4,-11.0L6.1,-11.0L6.8,-10.7L7.2,-10.2L7.6,-9.3L7.6,-9.1L7.7,-9.0L7.7,-8.8L7.8,-8.7L7.8,-8.4L7.8,-8.4L7.8,-8.1L7.9,-8.1L7.9,-7.8L7.9,-7.8L7.9,-7.5L8.1,-7.1L8.1,-5.1L8.0,-5.0L8.0,-4.8L7.9,-4.7L7.9,-4.4L7.9,-4.4L7.9,-4.1L7.8,-4.1L7.6,-2.9L7.2,-1.9L6.7,-1.4L6.2,-1.2L5.4,-1.2L4.8,-1.5L4.4,-1.9L4.0,-2.8L4.0,-3.0L3.9,-3.1L3.9,-3.3L3.9,-3.4L3.9,-3.6L3.8,-3.7L3.8,-3.9L3.8,-4.0L3.8,-4.2L3.7,-4.3L3.7,-4.6L3.6,-4.6L3.6,-4.9L3.5,-5.2L3.5,-6.9L3.6,-7.0L3.6,-7.2L3.6,-7.3L3.6,-7.6L3.7,-7.6L3.7,-7.9L3.8,-7.9L3.8,-8.2L3.8,-8.2L4.0,-9.4L4.4,-10.3L4.8,-10.7Z" fill="#000" fill-rule="evenodd" transform="translate(49.10,346.55)"/>
<path d="M14.5,-2.4L14.4,-2.3L14.1,-2.3L13.9,-2.2L13.1,-1.4L13.1,-1.4L12.9,-1.2L12.8,-0.9L12.8,-0.6L12.8,-0.6L12.8,-0.5L12.8,-0.2L13.1,0.2L13.9,1.0L14.1,1.1L14.4,1.1L14.5,1.2L14.6,1.1L14.9,1.1L15.4,0.8L16.1,0.1L16.2,-0.2L16.2,-0.5L16.2,-0.6L16.2,-0.6L16.2,-0.9L16.1,-1.2L15.9,-1.4L15.9,-1.4L15.1,-2.2L14.9,-2.3L14.6,-2.3ZM25.3,-13.3L25.0,-13.3L24.9,-13.4L24.9,-13.3L24.6,-13.3L24.3,-13.2L23.9,-12.8L23.1,-11.8L23.0,-11.5L22.4,-10.8L22.3,-10.6L21.8,-9.9L21.6,-9.6L21.1,-8.9L20.9,-8.7L19.5,-6.8L19.4,-6.6L18.8,-5.9L18.7,-5.6L18.1,-4.9L18.0,-4.7L17.6,-4.2L17.4,-3.9L17.4,-3.6L17.4,-3.5L17.4,-3.4L17.4,-3.1L17.6,-2.9L17.9,-2.5L18.2,-2.4L18.5,-2.4L18.6,-2.3L23.1,-2.3L23.2,-2.2L23.2,-1.2L23.1,-1.2L22.2,-1.1L22.0,-1.0L21.6,-0.6L21.5,-0.4L21.5,-0.1L21.4,0.0L21.5,0.1L21.5,0.4L21.6,0.6L22.0,1.0L22.2,1.1L22.6,1.1L22.6,1.2L26.7,1.2L26.8,1.1L27.1,1.1L27.3,1.0L27.7,0.6L27.8,0.4L27.8,0.1L27.9,0.0L27.8,-0.1L27.8,-0.4L27.7,-0.6L27.3,-1.0L27.1,-1.1L26.2,-1.2L26.1,-1.2L26.1,-2.2L26.2,-2.3L27.8,-2.3L27.9,-2.4L28.2,-2.4L28.4,-2.5L28.8,-2.9L28.9,-3.1L28.9,-3.4L29.0,-3.5L28.9,-3.6L28.9,-3.9L28.8,-4.1L28.4,-4.5L28.2,-4.6L27.9,-4.6L27.8,-4.7L26.2,-4.7L26.1,-4.8L26.1,-12.2L26.1,-12.2L26.1,-12.6L25.9,-12.8L25.6,-13.2ZM23.1,-7.7L23.2,-7.6L23.2,-4.8L23.1,-4.7L21.1,-4.7L21.0,-4.8ZM5.2,-13.4L5.2,-13.3L4.8,-13.3L2.9,-12.6L2.4,-12.2L1.3,-10.5L1.1,-10.1L1.1,-9.8L1.1,-9.8L1.1,-9.5L1.0,-9.4L1.0,-9.2L0.9,-9.1L0.9,-8.9L0.9,-8.8L0.9,-8.6L0.8,-8.5L0.8,-8.2L0.8,-8.2L0.8,-7.9L0.7,-7.9L0.7,-7.6L0.6,-7.2L0.6,-7.1L0.6,-6.9L0.6,-5.2L0.6,-5.1L0.6,-4.9L0.6,-4.9L0.6,-4.6L0.7,-4.6L0.7,-4.3L0.8,-4.2L0.8,-4.0L0.8,-3.9L0.8,-3.7L0.9,-3.6L0.9,-3.4L0.9,-3.3L0.9,-3.1L1.0,-3.0L1.0,-2.8L1.1,-2.4L1.1,-2.1L1.3,-1.7L2.4,0.0L2.9,0.4L3.1,0.6L4.8,1.1L5.2,1.1L5.2,1.2L6.4,1.2L6.4,1.1L6.8,1.1L8.8,0.4L9.1,0.1L10.2,-1.6L10.2,-1.8L10.5,-2.2L10.5,-2.5L10.6,-2.6L10.6,-2.8L10.6,-2.9L10.6,-3.1L10.7,-3.2L10.7,-3.4L10.8,-3.5L10.8,-3.8L10.8,-3.8L10.8,-4.1L10.9,-4.1L10.9,-4.4L11.0,-4.8L11.0,-5.2L11.1,-5.2L11.1,-6.9L11.0,-7.0L11.0,-7.4L10.9,-7.5L10.9,-7.8L10.9,-7.8L10.9,-8.1L10.8,-8.1L10.8,-8.4L10.8,-8.4L10.8,-8.7L10.7,-8.8L10.5,-9.9L10.4,-10.1L10.2,-10.6L9.1,-12.2L8.8,-12.6L8.5,-12.8L6.8,-13.3L6.4,-13.3L6.4,-13.4ZM5.4,-11.0L6.1,-11.0L6.8,-10.7L7.2,-10.2L7.6,-9.3L7.6,-9.1L7.7,-9.0L7.7,-8.8L7.8,-8.7L7.8,-8.4L7.8,-8.4L7.8,-8.1L7.9,-8.1L7.9,-7.8L7.9,-7.8L7.9,-7.5L8.1,-7.1L8.1,-5.1L8.0,-5.0L8.0,-4.8L7.9,-4.7L7.9,-4.4L7.9,-4.4L7.9,-4.1L7.8,-4.1L7.6,-2.9L7.2,-1.9L6.7,-1.4L6.2,-1.2L5.4,-1.2L4.8,-1.5L4.4,-1.9L4.0,-2.8L4.0,-3.0L3.9,-3.1L3.9,-3.3L3.9,-3.4L3.9,-3.6L3.8,-3.7L3.8,-3.9L3.8,-4.0L3.8,-4.2L3.7,-4.3L3.7,-4.6L3.6,-4.6L3.6,-4.9L3.5,-5.2L3.5,-6.9L3.6,-7.0L3.6,-7.2L3.6,-7.3L3.6,-7.6L3.7,-7.6L3.7,-7.9L3.8,-7.9L3.8,-8.2L3.8,-8.2L4.0,-9.4L4.4,-10.3L4.8,-10.7Z" fill="#000" fill-rule="evenodd" transform="translate(49.10,440.12)"/>
<path d="M14.5,-2.4L14.4,-2.3L14.1,-2.3L13.9,-2.2L13.1,-1.4L13.1,-1.4L12.9,-1.2L12.8,-0.9L12.8,-0.6L12.8,-0.6L12.8,-0.5L12.8,-0.2L13.1,0.2L13.9,1.0L14.1,1.1L14.4,1.1L14.5,1.2L14.6,1.1L14.9,1.1L15.4,0.8L16.1,0.1L16.2,-0.2L16.2,-0.5L16.2,-0.6L16.2,-0.6L16.2,-0.9L16.1,-1.2L15.9,-1.4L15.9,-1.4L15.1,-2.2L14.9,-2.3L14.6,-2.3ZM19.9,-12.8L19.4,-12.4L18.9,-11.9L18.9,-11.8L18.6,-11.5L18.0,-10.2L18.0,-9.9L17.9,-9.9L17.9,-9.2L18.0,-9.2L18.0,-8.9L18.1,-8.6L19.1,-7.7L19.4,-7.6L19.7,-7.6L19.8,-7.5L19.8,-7.6L20.1,-7.6L20.4,-7.7L21.3,-8.6L21.4,-8.9L21.4,-9.2L21.5,-9.2L21.4,-9.3L21.4,-9.6L21.1,-10.1L20.8,-10.4L21.1,-10.6L22.2,-11.0L24.1,-11.0L24.8,-10.6L25.2,-10.2L25.3,-9.9L25.5,-9.6L25.5,-9.0L25.1,-8.3L23.8,-7.4L20.4,-5.8L20.1,-5.5L18.9,-4.3L18.7,-3.9L18.6,-3.9L18.0,-2.2L18.0,-1.8L17.9,-1.8L17.9,0.0L18.0,0.1L18.0,0.4L18.1,0.6L18.5,1.0L18.8,1.1L19.1,1.1L19.1,1.2L19.2,1.1L19.5,1.1L19.8,1.0L20.1,0.6L20.2,0.4L20.3,-0.5L20.4,-0.6L20.6,-0.6L20.7,-0.4L20.9,-0.4L21.0,-0.2L23.4,1.1L23.7,1.1L23.8,1.2L26.1,1.2L26.2,1.1L26.5,1.1L26.8,1.0L27.7,0.1L28.3,-1.1L28.4,-1.7L28.4,-1.8L28.4,-2.9L28.4,-2.9L28.4,-3.2L28.2,-3.5L27.9,-3.9L27.6,-4.0L27.3,-4.0L27.2,-4.1L27.2,-4.0L26.9,-4.0L26.6,-3.9L26.2,-3.5L26.1,-3.2L26.1,-2.9L26.1,-2.9L26.1,-2.2L25.2,-1.8L24.0,-1.8L23.0,-2.2L22.9,-2.2L22.7,-2.3L22.6,-2.3L22.4,-2.4L22.2,-2.4L22.1,-2.6L21.9,-2.6L21.8,-2.7L21.6,-2.7L21.4,-2.8L20.9,-2.9L20.9,-2.9L21.6,-3.7L22.6,-4.2L22.8,-4.2L22.9,-4.3L23.1,-4.3L23.2,-4.4L23.4,-4.4L23.6,-4.6L23.7,-4.6L23.9,-4.7L24.0,-4.7L24.2,-4.8L24.3,-4.8L24.5,-4.9L25.2,-5.2L25.5,-5.4L25.6,-5.4L27.3,-6.5L27.3,-6.6L27.8,-7.0L28.4,-8.3L28.4,-8.6L28.4,-8.7L28.4,-9.9L28.4,-9.9L28.3,-10.4L27.8,-11.6L26.8,-12.6L24.8,-13.3L24.4,-13.3L24.4,-13.4L22.1,-13.4L22.0,-13.3L21.6,-13.3ZM5.2,-13.4L5.2,-13.3L4.8,-13.3L2.9,-12.6L2.4,-12.2L1.3,-10.5L1.1,-10.1L1.1,-9.8L1.1,-9.8L1.1,-9.5L1.0,-9.4L1.0,-9.2L0.9,-9.1L0.9,-8.9L0.9,-8.8L0.9,-8.6L0.8,-8.5L0.8,-8.2L0.8,-8.2L0.8,-7.9L0.7,-7.9L0.7,-7.6L0.6,-7.2L0.6,-7.1L0.6,-6.9L0.6,-5.2L0.6,-5.1L0.6,-4.9L0.6,-4.9L0.6,-4.6L0.7,-4.6L0.7,-4.3L0.8,-4.2L0.8,-4.0L0.8,-3.9L0.8,-3.7L0.9,-3.6L0.9,-3.4L0.9,-3.3L0.9,-3.1L1.0,-3.0L1.0,-2.8L1.1,-2.4L1.1,-2.1L1.3,-1.7L2.4,0.0L2.9,0.4L3.1,0.6L4.8,1.1L5.2,1.1L5.2,1.2L6.4,1.2L6.4,1.1L6.8,1.1L8.8,0.4L9.1,0.1L10.2,-1.6L10.2,-1.8L10.5,-2.2L10.5,-2.5L10.6,-2.6L10.6,-2.8L10.6,-2.9L10.6,-3.1L10.7,-3.2L10.7,-3.4L10.8,-3.5L10.8,-3.8L10.8,-3.8L10.8,-4.1L10.9,-4.1L10.9,-4.4L11.0,-4.8L11.0,-5.2L11.1,-5.2L11.1,-6.9L11.0,-7.0L11.0,-7.4L10.9,-7.5L10.9,-7.8L10.9,-7.8L10.9,-8.1L10.8,-8.1L10.8,-8.4L10.8,-8.4L10.8,-8.7L10.7,-8.8L10.5,-9.9L10.4,-10.1L10.2,-10.6L9.1,-12.2L8.8,-12.6L8.5,-12.8L6.8,-13.3L6.4,-13.3L6.4,-13.4ZM5.4,-11.0L6.1,-11.0L6.8,-10.7L7.2,-10.2L7.6,-9.3L7.6,-9.1L7.7,-9.0L7.7,-8.8L7.8,-8.7L7.8,-8.4L7.8,-8.4L7.8,-8.1L7.9,-8.1L7.9,-7.8L7.9,-7.8L7.9,-7.5L8.1,-7.1L8.1,-5.1L8.0,-5.0L8.0,-4.8L7.9,-4.7L7.9,-4.4L7.9,-4.4L7.9,-4.1L7.8,-4.1L7.6,-2.9L7.2,-1.9L6.7,-1.4L6.2,-1.2L5.4,-1.2L4.8,-1.5L4.4,-1.9L4.0,-2.8L4.0,-3.0L3.9,-3.1L3.9,-3.3L3.9,-3.4L3.9,-3.6L3.8,-3.7L3.8,-3.9L3.8,-4.0L3.8,-4.2L3.7,-4.3L3.7,-4.6L3.6,-4.6L3.6,-4.9L3.5,-5.2L3.5,-6.9L3.6,-7.0L3.6,-7.2L3.6,-7.3L3.6,-7.6L3.7,-7.6L3.7,-7.9L3.8,-7.9L3.8,-8.2L3.8,-8.2L4.0,-9.4L4.4,-10.3L4.8,-10.7Z" fill="#000" fill-rule="evenodd" transform="translate(49.10,533.68)"/>
<path d="M5.2,-13.4L5.2,-13.3L4.8,-13.3L2.9,-12.6L2.4,-12.2L1.3,-10.5L1.1,-10.1L1.1,-9.8L1.1,-9.8L1.1,-9.5L1.0,-9.4L1.0,-9.2L0.9,-9.1L0.9,-8.9L0.9,-8.8L0.9,-8.6L0.8,-8.5L0.8,-8.2L0.8,-8.2L0.8,-7.9L0.7,-7.9L0.7,-7.6L0.6,-7.2L0.6,-7.1L0.6,-6.9L0.6,-5.2L0.6,-5.1L0.6,-4.9L0.6,-4.9L0.6,-4.6L0.7,-4.6L0.7,-4.3L0.8,-4.2L0.8,-4.0L0.8,-3.9L0.8,-3.7L0.9,-3.6L0.9,-3.4L0.9,-3.3L0.9,-3.1L1.0,-3.0L1.0,-2.8L1.1,-2.4L1.1,-2.1L1.3,-1.7L2.4,0.0L2.9,0.4L3.1,0.6L4.8,1.1L5.2,1.1L5.2,1.2L6.4,1.2L6.4,1.1L6.8,1.1L8.8,0.4L9.1,0.1L10.2,-1.6L10.2,-1.8L10.5,-2.2L10.5,-2.5L10.6,-2.6L10.6,-2.8L10.6,-2.9L10.6,-3.1L10.7,-3.2L10.7,-3.4L10.8,-3.5L10.8,-3.8L10.8,-3.8L10.8,-4.1L10.9,-4.1L10.9,-4.4L11.0,-4.8L11.0,-5.2L11.1,-5.2L11.1,-6.9L11.0,-7.0L11.0,-7.4L10.9,-7.5L10.9,-7.8L10.9,-7.8L10.9,-8.1L10.8,-8.1L10.8,-8.4L10.8,-8.4L10.8,-8.7L10.7,-8.8L10.5,-9.9L10.4,-10.1L10.2,-10.6L9.1,-12.2L8.8,-12.6L8.5,-12.8L6.8,-13.3L6.4,-13.3L6.4,-13.4ZM5.4,-11.0L6.1,-11.0L6.8,-10.7L7.2,-10.2L7.6,-9.3L7.6,-9.1L7.7,-9.0L7.7,-8.8L7.8,-8.7L7.8,-8.4L7.8,-8.4L7.8,-8.1L7.9,-8.1L7.9,-7.8L7.9,-7.8L7.9,-7.5L8.1,-7.1L8.1,-5.1L8.0,-5.0L8.0,-4.8L7.9,-4.7L7.9,-4.4L7.9,-4.4L7.9,-4.1L7.8,-4.1L7.6,-2.9L7.2,-1.9L6.7,-1.4L6.2,-1.2L5.4,-1.2L4.8,-1.5L4.4,-1.9L4.0,-2.8L4.0,-3.0L3.9,-3.1L3.9,-3.3L3.9,-3.4L3.9,-3.6L3.8,-3.7L3.8,-3.9L3.8,-4.0L3.8,-4.2L3.7,-4.3L3.7,-4.6L3.6,-4.6L3.6,-4.9L3.5,-5.2L3.5,-6.9L3.6,-7.0L3.6,-7.2L3.6,-7.3L3.6,-7.6L3.7,-7.6L3.7,-7.9L3.8,-7.9L3.8,-8.2L3.8,-8.2L4.0,-9.4L4.4,-10.3L4.8,-10.7Z" fill="#000" fill-rule="evenodd" transform="translate(66.47,627.25)"/>
<path d="M7.9,-13.3L7.6,-13.3L7.6,-13.4L5.8,-13.4L5.8,-13.3L5.4,-13.3L3.4,-12.6L1.8,-11.0L1.2,-9.9L1.2,-9.7L1.1,-9.5L1.1,-9.3L1.1,-9.2L1.1,-9.1L1.0,-9.0L1.0,-8.8L0.9,-8.8L0.9,-8.6L0.9,-8.5L0.9,-8.3L0.8,-8.2L0.8,-8.1L0.8,-8.0L0.8,-7.8L0.6,-7.2L0.6,-7.2L0.6,-7.0L0.6,-6.9L0.6,-3.5L0.6,-3.4L0.6,-3.0L1.1,-1.5L1.3,-1.1L1.5,-0.9L2.9,0.4L4.8,1.1L5.2,1.1L5.2,1.2L6.4,1.2L6.4,1.1L6.8,1.1L8.8,0.4L10.1,-0.9L10.1,-0.9L10.2,-1.1L10.3,-1.3L10.4,-1.4L10.4,-1.6L11.0,-3.1L11.0,-3.4L11.1,-3.5L11.0,-4.5L10.4,-6.2L10.3,-6.2L10.1,-6.6L8.9,-7.8L8.6,-8.0L8.8,-8.1L9.1,-8.1L9.3,-8.2L10.1,-9.0L10.1,-9.1L10.2,-9.2L10.4,-9.5L10.4,-9.8L10.4,-9.9L10.4,-10.4L10.4,-10.5L10.3,-11.1L9.8,-12.1L9.2,-12.7L8.9,-12.9L8.8,-12.9ZM6.1,-6.4L6.8,-6.0L7.7,-5.1L8.1,-4.0L8.1,-3.6L7.7,-2.4L7.3,-2.0L7.2,-2.0L6.7,-1.4L6.2,-1.2L5.4,-1.2L4.8,-1.5L3.9,-2.4L3.5,-3.6L3.5,-3.9L3.9,-5.1L4.7,-5.9ZM8.5,-8.1L8.6,-8.1L8.7,-8.1L8.6,-8.0ZM7.9,-8.3L7.9,-8.4L8.0,-8.3L7.9,-8.2ZM7.4,-10.9L7.4,-10.8L7.2,-10.7L7.0,-10.2L7.0,-9.9L6.9,-9.9L7.0,-9.8L7.0,-9.5L7.1,-9.2L7.3,-9.1L7.2,-9.0L7.9,-8.4L7.9,-8.3L6.8,-8.7L5.8,-8.8L5.8,-8.7L5.4,-8.7L4.1,-8.2L3.9,-8.2L4.0,-8.9L4.4,-9.6L5.4,-10.7L6.1,-11.0L7.2,-11.0Z" fill="#000" fill-rule="evenodd" transform="translate(144.56,643.80)"/>
<path d="M1.4,-13.3L1.1,-13.2L0.8,-12.8L0.6,-12.6L0.6,-12.2L0.6,-12.2L0.6,-8.7L0.6,-8.6L0.6,-8.3L0.8,-8.1L1.1,-7.7L1.4,-7.6L1.7,-7.6L1.8,-7.5L1.8,-7.6L2.1,-7.6L2.4,-7.7L2.8,-8.1L2.9,-8.3L2.9,-8.6L2.9,-8.7L2.9,-9.6L3.1,-10.0L3.3,-10.2L3.8,-10.4L4.4,-10.4L5.4,-10.0L5.5,-10.0L5.7,-9.9L5.8,-9.9L6.0,-9.8L6.1,-9.8L6.3,-9.6L6.4,-9.6L6.6,-9.5L6.8,-9.5L7.1,-9.3L7.5,-9.3L7.6,-9.2L8.0,-9.2L8.1,-9.2L5.6,-6.7L5.4,-6.4L4.8,-5.2L4.8,-5.1L4.6,-4.9L4.1,-3.2L4.1,-3.2L4.1,-2.9L4.1,-2.9L4.1,0.0L4.1,0.1L4.1,0.4L4.2,0.6L4.6,1.0L4.9,1.1L5.2,1.1L5.2,1.2L5.3,1.1L5.8,1.1L5.8,1.2L5.9,1.1L6.2,1.1L6.4,1.0L6.8,0.6L6.9,0.4L6.9,0.1L7.0,0.0L7.0,-2.8L7.4,-4.1L7.9,-5.1L10.2,-7.9L10.3,-8.2L10.4,-8.3L10.4,-8.5L11.0,-10.1L11.0,-10.4L11.1,-10.4L11.1,-12.2L11.0,-12.2L11.0,-12.6L10.9,-12.8L10.5,-13.2L10.2,-13.3L9.9,-13.3L9.9,-13.4L9.8,-13.3L9.5,-13.3L9.2,-13.2L8.9,-12.8L8.4,-11.8L8.2,-11.6L7.9,-11.6L6.7,-12.3L6.6,-12.4L6.4,-12.5L6.2,-12.6L6.1,-12.7L5.9,-12.8L5.8,-12.9L5.6,-13.0L5.4,-13.1L5.3,-13.2L5.2,-13.2L5.0,-13.3L4.7,-13.3L4.6,-13.4L3.5,-13.4L3.4,-13.3L3.1,-13.3L2.9,-13.2L2.7,-13.0L2.6,-13.0L2.4,-13.2L2.1,-13.3L1.8,-13.3L1.8,-13.4L1.7,-13.3Z" fill="#000" fill-rule="evenodd" transform="translate(269.30,643.80)"/>
<path d="M4.2,-13.3L2.2,-12.6L1.9,-12.2L1.2,-10.8L1.2,-10.5L1.1,-10.4L1.1,-8.7L1.2,-8.6L1.2,-8.3L1.6,-7.6L1.6,-7.5L1.8,-7.0L1.3,-6.4L1.1,-5.9L0.9,-5.8L0.7,-5.2L0.7,-5.1L0.6,-5.0L0.6,-4.7L0.6,-4.6L0.6,-2.3L0.6,-2.2L0.6,-1.9L1.2,-0.6L2.2,0.4L2.5,0.6L4.2,1.1L4.6,1.1L4.6,1.2L6.9,1.2L7.0,1.1L7.4,1.1L9.1,0.6L9.6,0.2L10.1,-0.3L10.1,-0.4L10.4,-0.7L11.0,-1.9L11.0,-2.2L11.1,-2.3L11.1,-4.6L11.0,-4.7L11.0,-5.0L10.4,-6.2L10.1,-6.6L10.1,-6.7L9.8,-7.0L9.8,-7.1L10.2,-7.9L10.4,-8.3L10.4,-8.6L10.4,-8.7L10.4,-10.4L10.4,-10.5L10.4,-10.8L10.3,-10.9L10.3,-11.1L9.7,-12.2L9.3,-12.6L9.1,-12.8L7.4,-13.3L7.0,-13.3L6.9,-13.4L4.6,-13.4L4.6,-13.3ZM4.2,-5.4L4.9,-5.8L6.8,-5.8L7.4,-5.4L7.8,-5.1L8.1,-4.4L8.1,-2.6L7.7,-1.8L7.4,-1.5L6.8,-1.2L4.9,-1.2L4.2,-1.5L3.9,-1.9L3.5,-2.6L3.5,-4.4L3.8,-5.0ZM4.3,-10.6L4.5,-10.8L4.9,-11.0L6.7,-11.0L7.2,-10.8L7.5,-10.2L7.5,-8.9L7.2,-8.4L6.7,-8.1L4.9,-8.1L4.4,-8.4L4.3,-8.5L4.1,-9.0L4.1,-10.1Z" fill="#000" fill-rule="evenodd" transform="translate(394.05,643.80)"/>
<path d="M6.8,-13.3L6.4,-13.3L6.4,-13.4L5.2,-13.4L5.2,-13.3L4.8,-13.3L2.9,-12.6L2.6,-12.4L1.3,-11.1L1.1,-10.7L0.6,-9.2L0.6,-8.8L0.6,-8.7L0.6,-7.6L1.1,-6.1L1.3,-5.8L1.9,-5.1L1.9,-5.1L2.6,-4.4L2.7,-4.4L2.9,-4.2L3.1,-4.1L3.1,-4.0L2.9,-4.1L2.8,-4.0L2.5,-4.0L2.1,-3.8L1.3,-2.9L1.2,-2.7L1.2,-2.4L1.1,-2.3L1.2,-1.4L1.9,0.1L2.2,0.4L3.7,1.1L4.0,1.1L4.1,1.2L5.8,1.2L5.9,1.1L6.2,1.1L7.9,0.6L8.4,0.2L9.6,-0.9L9.5,-0.9L9.8,-1.2L10.4,-2.6L10.6,-3.5L10.7,-3.6L10.7,-3.8L10.8,-3.8L10.8,-4.0L10.8,-4.1L10.8,-4.2L10.9,-4.3L10.9,-4.5L10.9,-4.6L10.9,-4.8L11.0,-4.8L11.0,-5.2L11.1,-5.2L11.1,-8.7L11.0,-8.8L11.0,-9.1L10.4,-10.8L10.3,-10.9L10.1,-11.2L8.8,-12.6ZM7.8,-3.9L7.6,-3.6L7.6,-3.4L7.2,-2.5L6.2,-1.5L5.6,-1.2L4.3,-1.2L4.1,-1.3L4.5,-1.7L4.6,-1.9L4.6,-2.2L4.7,-2.3L4.6,-2.4L4.6,-2.7L4.3,-3.2L3.8,-3.8L3.7,-3.7L3.5,-3.9L3.6,-3.9L4.8,-3.5L5.2,-3.5L5.2,-3.4L6.2,-3.5L7.6,-4.0ZM3.4,-3.9L3.4,-4.0L3.5,-3.9L3.4,-3.9ZM6.1,-11.0L6.8,-10.7L7.7,-9.8L8.1,-8.6L8.1,-8.2L7.7,-7.1L6.9,-6.2L5.5,-5.8L4.9,-6.1L3.9,-7.1L3.5,-8.2L3.5,-8.6L3.9,-9.8L4.8,-10.7L5.4,-11.0Z" fill="#000" fill-rule="evenodd" transform="translate(518.79,643.80)"/>
<path d="M6.8,-13.3L6.4,-13.3L6.4,-13.4L6.3,-13.3L6.0,-13.3L5.8,-13.2L4.0,-11.4L2.9,-10.9L2.5,-10.5L2.4,-10.2L2.4,-9.9L2.3,-9.9L2.4,-9.8L2.4,-9.5L2.5,-9.2L2.9,-8.9L3.1,-8.8L3.4,-8.8L3.5,-8.7L3.6,-8.8L4.1,-8.8L4.5,-9.1L4.6,-9.0L4.6,-1.2L4.6,-1.2L3.5,-1.2L3.4,-1.1L3.1,-1.1L2.9,-1.0L2.5,-0.6L2.4,-0.4L2.4,-0.1L2.3,0.0L2.4,0.1L2.4,0.4L2.5,0.6L2.9,1.0L3.1,1.1L3.4,1.1L3.5,1.2L8.7,1.2L8.8,1.1L9.1,1.1L9.3,1.0L9.7,0.6L9.8,0.4L9.8,0.1L9.9,0.0L9.8,-0.1L9.8,-0.4L9.7,-0.6L9.3,-1.0L9.1,-1.1L8.8,-1.1L8.7,-1.2L7.6,-1.2L7.6,-1.2L7.6,-12.2L7.5,-12.2L7.5,-12.6L7.4,-12.8L7.0,-13.2Z" fill="#000" fill-rule="evenodd" transform="translate(639.41,643.80) scale(0.85,1)"/>
<path d="M5.2,-13.4L5.2,-13.3L4.8,-13.3L2.9,-12.6L2.4,-12.2L1.3,-10.5L1.1,-10.1L1.1,-9.8L1.1,-9.8L1.1,-9.5L1.0,-9.4L1.0,-9.2L0.9,-9.1L0.9,-8.9L0.9,-8.8L0.9,-8.6L0.8,-8.5L0.8,-8.2L0.8,-8.2L0.8,-7.9L0.7,-7.9L0.7,-7.6L0.6,-7.2L0.6,-7.1L0.6,-6.9L0.6,-5.2L0.6,-5.1L0.6,-4.9L0.6,-4.9L0.6,-4.6L0.7,-4.6L0.7,-4.3L0.8,-4.2L0.8,-4.0L0.8,-3.9L0.8,-3.7L0.9,-3.6L0.9,-3.4L0.9,-3.3L0.9,-3.1L1.0,-3.0L1.0,-2.8L1.1,-2.4L1.1,-2.1L1.3,-1.7L2.4,0.0L2.9,0.4L3.1,0.6L4.8,1.1L5.2,1.1L5.2,1.2L6.4,1.2L6.4,1.1L6.8,1.1L8.8,0.4L9.1,0.1L10.2,-1.6L10.2,-1.8L10.5,-2.2L10.5,-2.5L10.6,-2.6L10.6,-2.8L10.6,-2.9L10.6,-3.1L10.7,-3.2L10.7,-3.4L10.8,-3.5L10.8,-3.8L10.8,-3.8L10.8,-4.1L10.9,-4.1L10.9,-4.4L11.0,-4.8L11.0,-5.2L11.1,-5.2L11.1,-6.9L11.0,-7.0L11.0,-7.4L10.9,-7.5L10.9,-7.8L10.9,-7.8L10.9,-8.1L10.8,-8.1L10.8,-8.4L10.8,-8.4L10.8,-8.7L10.7,-8.8L10.5,-9.9L10.4,-10.1L10.2,-10.6L9.1,-12.2L8.8,-12.6L8.5,-12.8L6.8,-13.3L6.4,-13.3L6.4,-13.4ZM5.4,-11.0L6.1,-11.0L6.8,-10.7L7.2,-10.2L7.6,-9.3L7.6,-9.1L7.7,-9.0L7.7,-8.8L7.8,-8.7L7.8,-8.4L7.8,-8.4L7.8,-8.1L7.9,-8.1L7.9,-7.8L7.9,-7.8L7.9,-7.5L8.1,-7.1L8.1,-5.1L8.0,-5.0L8.0,-4.8L7.9,-4.7L7.9,-4.4L7.9,-4.4L7.9,-4.1L7.8,-4.1L7.6,-2.9L7.2,-1.9L6.7,-1.4L6.2,-1.2L5.4,-1.2L4.8,-1.5L4.4,-1.9L4.0,-2.8L4.0,-3.0L3.9,-3.1L3.9,-3.3L3.9,-3.4L3.9,-3.6L3.8,-3.7L3.8,-3.9L3.8,-4.0L3.8,-4.2L3.7,-4.3L3.7,-4.6L3.6,-4.6L3.6,-4.9L3.5,-5.2L3.5,-6.9L3.6,-7.0L3.6,-7.2L3.6,-7.3L3.6,-7.6L3.7,-7.6L3.7,-7.9L3.8,-7.9L3.8,-8.2L3.8,-8.2L4.0,-9.4L4.4,-10.3L4.8,-10.7Z" fill="#000" fill-rule="evenodd" transform="translate(649.35,643.80)"/>
<path d="M0.4,-10.8L0.4,-10.3L0.3,-10.2L0.4,-10.2L0.4,-9.9L0.4,-9.8L0.8,-9.4L0.9,-9.2L1.4,-9.2L1.4,-9.1L2.4,-9.1L2.5,-9.1L2.5,-1.2L2.4,-1.1L1.4,-1.1L1.4,-1.1L1.1,-1.1L0.9,-1.0L0.6,-0.7L0.4,-0.5L0.4,-0.1L0.3,0.0L0.4,0.1L0.4,0.3L0.6,0.7L0.9,1.0L1.4,1.1L1.4,1.1L6.6,1.1L6.6,1.1L7.1,1.0L7.4,0.7L7.6,0.5L7.6,0.1L7.7,0.0L7.6,-0.1L7.6,-0.5L7.2,-0.9L7.1,-1.0L6.6,-1.1L6.6,-1.1L5.6,-1.1L5.5,-1.2L5.5,-7.6L6.4,-8.5L8.2,-9.1L9.2,-9.1L10.1,-8.7L10.2,-8.6L10.2,-8.4L10.6,-7.8L10.6,-1.2L10.5,-1.1L9.5,-1.1L9.4,-1.1L9.2,-1.1L9.0,-1.0L8.6,-0.7L8.5,-0.5L8.4,-0.1L8.4,0.0L8.4,0.1L8.4,0.3L8.6,0.7L9.0,1.0L9.4,1.1L9.5,1.1L14.6,1.1L14.7,1.1L15.1,1.0L15.5,0.7L15.6,0.5L15.7,0.1L15.8,0.0L15.7,-0.1L15.6,-0.5L15.3,-0.9L15.1,-1.0L14.7,-1.1L14.6,-1.1L13.6,-1.1L13.6,-1.2L13.6,-7.6L14.5,-8.5L16.3,-9.1L17.2,-9.1L18.1,-8.7L18.2,-8.6L18.6,-7.8L18.6,-1.2L18.5,-1.1L17.5,-1.1L17.4,-1.1L17.0,-1.0L16.8,-0.9L16.5,-0.5L16.4,-0.1L16.4,0.0L16.4,0.1L16.5,0.5L16.6,0.7L17.0,1.0L17.4,1.1L17.5,1.1L22.6,1.1L22.7,1.1L23.1,1.0L23.3,0.9L23.6,0.5L23.7,0.1L23.8,0.0L23.7,-0.1L23.7,-0.3L23.6,-0.5L23.3,-0.9L23.1,-1.0L22.7,-1.1L22.6,-1.1L21.6,-1.1L21.6,-1.2L21.6,-8.0L21.5,-8.1L21.4,-8.6L20.8,-9.9L20.4,-10.4L19.9,-10.6L17.9,-11.3L17.6,-11.3L17.5,-11.4L16.1,-11.4L16.0,-11.3L15.7,-11.3L13.6,-10.6L13.1,-10.3L12.8,-10.0L12.7,-10.0L12.4,-10.4L11.9,-10.6L9.9,-11.3L9.6,-11.3L9.5,-11.4L8.0,-11.4L7.9,-11.3L7.7,-11.3L5.6,-10.6L5.4,-10.6L5.4,-10.8L5.1,-11.1L4.9,-11.2L4.4,-11.3L4.4,-11.4L1.4,-11.4L1.4,-11.3L0.9,-11.2L0.8,-11.1Z" fill="#ff0000" fill-rule="evenodd" transform="translate(544.43,134.90) scale(0.880,1)"/>
<path d="M1.8,-4.4L1.9,-4.3L1.9,-3.9L2.1,-3.7L2.4,-3.4L2.9,-3.3L2.9,-3.2L16.1,-3.2L16.1,-3.3L16.6,-3.4L16.8,-3.5L17.1,-3.9L17.1,-4.3L17.2,-4.4L17.1,-4.4L17.1,-4.9L16.9,-5.1L16.6,-5.4L16.1,-5.4L16.1,-5.5L2.9,-5.5L2.9,-5.4L2.4,-5.4L2.2,-5.2L1.9,-4.9L1.9,-4.4ZM1.8,-8.8L1.9,-8.7L1.9,-8.2L2.1,-8.1L2.4,-7.8L2.9,-7.7L2.9,-7.6L16.1,-7.6L16.1,-7.7L16.6,-7.8L16.8,-7.9L17.1,-8.2L17.1,-8.7L17.2,-8.8L17.1,-8.8L17.1,-9.2L16.9,-9.4L16.6,-9.8L16.1,-9.8L16.1,-9.9L2.9,-9.9L2.9,-9.8L2.4,-9.8L2.2,-9.6L1.9,-9.2L1.9,-8.8Z" fill="#ff0000" fill-rule="evenodd" transform="translate(579.30,134.90) scale(0.880,1)"/>
<path d="M8.3,-16.4L8.1,-16.4L8.0,-16.4L7.9,-16.4L7.5,-16.3L7.3,-16.2L5.2,-14.1L3.7,-13.3L3.5,-13.1L3.3,-12.8L3.3,-12.5L3.2,-12.4L3.3,-12.4L3.4,-11.9L3.7,-11.6L4.1,-11.4L4.3,-11.4L4.4,-11.3L4.8,-11.4L4.9,-11.4L6.1,-12.0L6.2,-11.9L6.2,-1.2L6.1,-1.1L4.4,-1.1L4.3,-1.1L3.9,-1.0L3.5,-0.7L3.4,-0.5L3.3,-0.1L3.2,0.0L3.3,0.1L3.3,0.3L3.5,0.7L3.7,0.9L4.1,1.1L4.3,1.1L4.4,1.1L10.9,1.1L11.0,1.1L11.4,1.0L11.8,0.7L12.0,0.3L12.0,0.1L12.1,0.0L12.0,-0.1L11.9,-0.5L11.8,-0.7L11.4,-1.0L11.0,-1.1L10.9,-1.1L9.2,-1.1L9.1,-1.2L9.1,-15.3L9.1,-15.4L9.0,-15.8L8.7,-16.2Z" fill="#ff0000" fill-rule="evenodd" transform="translate(608.85,134.90)"/>
<path d="M0.4,-10.8L0.4,-10.3L0.3,-10.2L0.4,-10.2L0.4,-9.9L0.4,-9.8L0.8,-9.4L0.9,-9.2L1.4,-9.2L1.4,-9.1L2.4,-9.1L2.5,-9.1L2.5,-1.2L2.4,-1.1L1.4,-1.1L1.4,-1.1L1.1,-1.1L0.9,-1.0L0.6,-0.7L0.4,-0.5L0.4,-0.1L0.3,0.0L0.4,0.1L0.4,0.3L0.6,0.7L0.9,1.0L1.4,1.1L1.4,1.1L6.6,1.1L6.6,1.1L7.1,1.0L7.4,0.7L7.6,0.5L7.6,0.1L7.7,0.0L7.6,-0.1L7.6,-0.5L7.2,-0.9L7.1,-1.0L6.6,-1.1L6.6,-1.1L5.6,-1.1L5.5,-1.2L5.5,-7.6L6.4,-8.5L8.2,-9.1L9.2,-9.1L10.1,-8.7L10.2,-8.6L10.2,-8.4L10.6,-7.8L10.6,-1.2L10.5,-1.1L9.5,-1.1L9.4,-1.1L9.2,-1.1L9.0,-1.0L8.6,-0.7L8.5,-0.5L8.4,-0.1L8.4,0.0L8.4,0.1L8.4,0.3L8.6,0.7L9.0,1.0L9.4,1.1L9.5,1.1L14.6,1.1L14.7,1.1L15.1,1.0L15.5,0.7L15.6,0.5L15.7,0.1L15.8,0.0L15.7,-0.1L15.6,-0.5L15.3,-0.9L15.1,-1.0L14.7,-1.1L14.6,-1.1L13.6,-1.1L13.6,-1.2L13.6,-7.6L14.5,-8.5L16.3,-9.1L17.2,-9.1L18.1,-8.7L18.2,-8.6L18.6,-7.8L18.6,-1.2L18.5,-1.1L17.5,-1.1L17.4,-1.1L17.0,-1.0L16.8,-0.9L16.5,-0.5L16.4,-0.1L16.4,0.0L16.4,0.1L16.5,0.5L16.6,0.7L17.0,1.0L17.4,1.1L17.5,1.1L22.6,1.1L22.7,1.1L23.1,1.0L23.3,0.9L23.6,0.5L23.7,0.1L23.8,0.0L23.7,-0.1L23.7,-0.3L23.6,-0.5L23.3,-0.9L23.1,-1.0L22.7,-1.1L22.6,-1.1L21.6,-1.1L21.6,-1.2L21.6,-8.0L21.5,-8.1L21.4,-8.6L20.8,-9.9L20.4,-10.4L19.9,-10.6L17.9,-11.3L17.6,-11.3L17.5,-11.4L16.1,-11.4L16.0,-11.3L15.7,-11.3L13.6,-10.6L13.1,-10.3L12.8,-10.0L12.7,-10.0L12.4,-10.4L11.9,-10.6L9.9,-11.3L9.6,-11.3L9.5,-11.4L8.0,-11.4L7.9,-11.3L7.7,-11.3L5.6,-10.6L5.4,-10.6L5.4,-10.8L5.1,-11.1L4.9,-11.2L4.4,-11.3L4.4,-11.4L1.4,-11.4L1.4,-11.3L0.9,-11.2L0.8,-11.1Z" fill="#0000ff" fill-rule="evenodd" transform="translate(544.43,158.20) scale(0.880,1)"/>
<path d="M1.8,-4.4L1.9,-4.3L1.9,-3.9L2.1,-3.7L2.4,-3.4L2.9,-3.3L2.9,-3.2L16.1,-3.2L16.1,-3.3L16.6,-3.4L16.8,-3.5L17.1,-3.9L17.1,-4.3L17.2,-4.4L17.1,-4.4L17.1,-4.9L16.9,-5.1L16.6,-5.4L16.1,-5.4L16.1,-5.5L2.9,-5.5L2.9,-5.4L2.4,-5.4L2.2,-5.2L1.9,-4.9L1.9,-4.4ZM1.8,-8.8L1.9,-8.7L1.9,-8.2L2.1,-8.1L2.4,-7.8L2.9,-7.7L2.9,-7.6L16.1,-7.6L16.1,-7.7L16.6,-7.8L16.8,-7.9L17.1,-8.2L17.1,-8.7L17.2,-8.8L17.1,-8.8L17.1,-9.2L16.9,-9.4L16.6,-9.8L16.1,-9.8L16.1,-9.9L2.9,-9.9L2.9,-9.8L2.4,-9.8L2.2,-9.6L1.9,-9.2L1.9,-8.8Z" fill="#0000ff" fill-rule="evenodd" transform="translate(579.30,158.20) scale(0.880,1)"/>
<path d="M3.1,-15.6L2.1,-14.7L2.1,-14.5L1.9,-14.3L1.5,-13.5L1.2,-13.0L1.1,-12.5L1.1,-12.4L1.1,-11.7L1.1,-11.6L1.2,-11.2L1.3,-11.1L1.4,-10.9L2.1,-10.1L2.3,-10.1L2.4,-9.9L2.9,-9.9L2.9,-9.8L3.0,-9.9L3.4,-9.9L4.4,-10.9L4.5,-11.1L4.6,-11.2L4.7,-11.6L4.8,-11.7L4.7,-11.8L4.6,-12.2L4.5,-12.3L4.4,-12.5L3.8,-13.1L3.8,-13.2L4.4,-13.7L5.9,-14.2L8.6,-14.2L9.6,-13.7L10.1,-13.2L10.6,-12.2L10.6,-11.2L10.1,-10.3L10.0,-10.2L8.3,-9.1L3.9,-6.9L3.8,-6.7L3.6,-6.6L2.1,-5.2L2.1,-5.0L1.8,-4.7L1.1,-2.6L1.1,-2.2L1.1,-2.2L1.1,0.0L1.1,0.1L1.2,0.5L1.3,0.7L1.7,1.0L2.1,1.1L2.2,1.1L2.2,1.1L2.7,1.0L3.1,0.7L3.2,0.3L3.2,0.1L3.3,0.0L3.3,-1.0L3.4,-1.1L4.1,-1.1L4.2,-0.9L4.4,-0.9L4.6,-0.8L4.8,-0.7L4.9,-0.6L5.1,-0.5L5.2,-0.4L5.4,-0.3L7.4,0.9L7.7,1.1L7.9,1.1L8.0,1.1L10.9,1.1L11.0,1.1L11.4,1.0L11.6,0.9L11.8,0.8L12.5,0.1L12.6,-0.1L12.8,-0.3L13.5,-1.9L13.5,-2.1L13.6,-2.2L13.6,-3.6L13.5,-3.7L13.5,-3.9L13.3,-4.3L12.9,-4.6L12.5,-4.7L12.4,-4.8L12.4,-4.7L11.9,-4.6L11.6,-4.3L11.4,-3.9L11.4,-3.7L11.3,-3.6L11.3,-2.7L11.0,-2.4L10.0,-1.9L8.2,-1.9L7.2,-2.3L7.1,-2.3L6.9,-2.4L6.8,-2.4L6.6,-2.6L6.4,-2.6L6.2,-2.7L6.1,-2.7L5.9,-2.8L5.8,-2.8L5.6,-2.9L5.5,-2.9L5.3,-3.1L5.2,-3.1L4.8,-3.2L4.8,-3.2L4.4,-3.3L3.8,-3.3L3.8,-3.4L3.9,-3.8L5.1,-4.9L6.8,-5.8L6.9,-5.8L7.1,-5.9L7.2,-5.9L7.4,-6.0L7.5,-6.0L7.7,-6.1L7.8,-6.1L8.0,-6.2L8.1,-6.2L8.3,-6.4L8.4,-6.4L8.6,-6.5L8.8,-6.5L8.9,-6.6L9.1,-6.6L9.2,-6.8L10.0,-7.0L12.2,-8.5L12.8,-9.1L13.5,-10.6L13.5,-10.9L13.6,-10.9L13.6,-12.4L13.5,-12.5L13.4,-12.9L12.5,-14.7L11.6,-15.5L11.3,-15.7L9.2,-16.4L8.8,-16.4L8.8,-16.4L5.8,-16.4L5.8,-16.4L5.4,-16.4Z" fill="#0000ff" fill-rule="evenodd" transform="translate(608.24,158.20)"/>
<path d="M0.4,-10.8L0.4,-10.3L0.3,-10.2L0.4,-10.2L0.4,-9.9L0.4,-9.8L0.8,-9.4L0.9,-9.2L1.4,-9.2L1.4,-9.1L2.4,-9.1L2.5,-9.1L2.5,-1.2L2.4,-1.1L1.4,-1.1L1.4,-1.1L1.1,-1.1L0.9,-1.0L0.6,-0.7L0.4,-0.5L0.4,-0.1L0.3,0.0L0.4,0.1L0.4,0.3L0.6,0.7L0.9,1.0L1.4,1.1L1.4,1.1L6.6,1.1L6.6,1.1L7.1,1.0L7.4,0.7L7.6,0.5L7.6,0.1L7.7,0.0L7.6,-0.1L7.6,-0.5L7.2,-0.9L7.1,-1.0L6.6,-1.1L6.6,-1.1L5.6,-1.1L5.5,-1.2L5.5,-7.6L6.4,-8.5L8.2,-9.1L9.2,-9.1L10.1,-8.7L10.2,-8.6L10.2,-8.4L10.6,-7.8L10.6,-1.2L10.5,-1.1L9.5,-1.1L9.4,-1.1L9.2,-1.1L9.0,-1.0L8.6,-0.7L8.5,-0.5L8.4,-0.1L8.4,0.0L8.4,0.1L8.4,0.3L8.6,0.7L9.0,1.0L9.4,1.1L9.5,1.1L14.6,1.1L14.7,1.1L15.1,1.0L15.5,0.7L15.6,0.5L15.7,0.1L15.8,0.0L15.7,-0.1L15.6,-0.5L15.3,-0.9L15.1,-1.0L14.7,-1.1L14.6,-1.1L13.6,-1.1L13.6,-1.2L13.6,-7.6L14.5,-8.5L16.3,-9.1L17.2,-9.1L18.1,-8.7L18.2,-8.6L18.6,-7.8L18.6,-1.2L18.5,-1.1L17.5,-1.1L17.4,-1.1L17.0,-1.0L16.8,-0.9L16.5,-0.5L16.4,-0.1L16.4,0.0L16.4,0.1L16.5,0.5L16.6,0.7L17.0,1.0L17.4,1.1L17.5,1.1L22.6,1.1L22.7,1.1L23.1,1.0L23.3,0.9L23.6,0.5L23.7,0.1L23.8,0.0L23.7,-0.1L23.7,-0.3L23.6,-0.5L23.3,-0.9L23.1,-1.0L22.7,-1.1L22.6,-1.1L21.6,-1.1L21.6,-1.2L21.6,-8.0L21.5,-8.1L21.4,-8.6L20.8,-9.9L20.4,-10.4L19.9,-10.6L17.9,-11.3L17.6,-11.3L17.5,-11.4L16.1,-11.4L16.0,-11.3L15.7,-11.3L13.6,-10.6L13.1,-10.3L12.8,-10.0L12.7,-10.0L12.4,-10.4L11.9,-10.6L9.9,-11.3L9.6,-11.3L9.5,-11.4L8.0,-11.4L7.9,-11.3L7.7,-11.3L5.6,-10.6L5.4,-10.6L5.4,-10.8L5.1,-11.1L4.9,-11.2L4.4,-11.3L4.4,-11.4L1.4,-11.4L1.4,-11.3L0.9,-11.2L0.8,-11.1Z" fill="#00ff00" fill-rule="evenodd" transform="translate(544.43,181.50) scale(0.880,1)"/>
<path d="M1.8,-4.4L1.9,-4.3L1.9,-3.9L2.1,-3.7L2.4,-3.4L2.9,-3.3L2.9,-3.2L16.1,-3.2L16.1,-3.3L16.6,-3.4L16.8,-3.5L17.1,-3.9L17.1,-4.3L17.2,-4.4L17.1,-4.4L17.1,-4.9L16.9,-5.1L16.6,-5.4L16.1,-5.4L16.1,-5.5L2.9,-5.5L2.9,-5.4L2.4,-5.4L2.2,-5.2L1.9,-4.9L1.9,-4.4ZM1.8,-8.8L1.9,-8.7L1.9,-8.2L2.1,-8.1L2.4,-7.8L2.9,-7.7L2.9,-7.6L16.1,-7.6L16.1,-7.7L16.6,-7.8L16.8,-7.9L17.1,-8.2L17.1,-8.7L17.2,-8.8L17.1,-8.8L17.1,-9.2L16.9,-9.4L16.6,-9.8L16.1,-9.8L16.1,-9.9L2.9,-9.9L2.9,-9.8L2.4,-9.8L2.2,-9.6L1.9,-9.2L1.9,-8.8Z" fill="#00ff00" fill-rule="evenodd" transform="translate(579.30,181.50) scale(0.880,1)"/>
<path d="M5.4,-16.4L3.1,-15.6L2.1,-14.7L1.2,-13.0L1.1,-12.5L1.1,-12.4L1.1,-11.7L1.1,-11.6L1.2,-11.2L1.3,-11.1L1.4,-10.9L2.1,-10.1L2.6,-9.9L2.9,-9.9L2.9,-9.8L3.0,-9.9L3.2,-9.9L3.6,-10.1L4.4,-10.9L4.7,-11.4L4.7,-11.6L4.8,-11.7L4.7,-11.8L4.6,-12.2L4.5,-12.3L4.4,-12.5L3.8,-13.1L3.8,-13.2L4.2,-13.6L5.9,-14.2L8.6,-14.2L9.3,-13.8L9.4,-13.7L9.8,-12.9L9.8,-11.1L9.4,-10.4L9.2,-10.2L8.5,-9.9L6.6,-9.9L6.5,-9.8L6.1,-9.8L5.9,-9.6L5.6,-9.2L5.5,-8.8L5.4,-8.8L5.5,-8.7L5.6,-8.2L5.7,-8.1L6.1,-7.8L6.5,-7.7L6.6,-7.6L8.6,-7.6L9.6,-7.1L9.9,-6.8L10.6,-4.9L10.6,-3.2L10.1,-2.2L9.5,-1.6L8.5,-1.1L5.9,-1.1L4.2,-1.7L3.9,-2.1L3.8,-2.2L4.6,-3.1L4.7,-3.6L4.8,-3.6L4.7,-3.7L4.7,-3.9L4.4,-4.4L3.6,-5.2L3.4,-5.4L3.0,-5.4L2.9,-5.5L2.9,-5.4L2.4,-5.4L2.3,-5.2L2.1,-5.2L1.4,-4.4L1.3,-4.2L1.2,-4.1L1.1,-3.7L1.1,-3.6L1.1,-2.9L1.1,-2.9L1.1,-2.6L1.2,-2.6L1.2,-2.4L1.9,-1.0L2.9,0.1L3.1,0.2L3.2,0.2L3.4,0.4L5.4,1.1L5.8,1.1L5.8,1.1L8.8,1.1L8.8,1.1L9.2,1.1L11.2,0.4L11.6,0.1L11.8,0.1L12.7,-0.9L13.5,-2.6L13.5,-2.9L13.6,-2.9L13.6,-5.1L13.5,-5.2L13.4,-5.6L12.5,-7.4L11.4,-8.4L11.6,-8.6L12.0,-9.1L12.8,-10.6L12.8,-10.9L12.8,-10.9L12.8,-13.1L12.8,-13.2L12.8,-13.4L12.7,-13.5L12.7,-13.7L12.0,-15.1L11.6,-15.5L11.3,-15.7L9.2,-16.4L8.8,-16.4L8.8,-16.4L5.8,-16.4L5.8,-16.4Z" fill="#00ff00" fill-rule="evenodd" transform="translate(608.64,181.50)"/>
<path d="M1.4,-15.0L0.9,-14.7L0.8,-14.4L0.6,-14.1L0.6,-13.8L0.6,-13.8L0.6,-13.7L0.6,-13.4L0.8,-13.1L0.9,-12.8L1.2,-12.6L1.6,-12.4L1.9,-12.4L1.9,-12.4L3.4,-12.4L3.5,-12.3L3.5,-1.4L3.4,-1.4L1.9,-1.4L1.9,-1.3L1.6,-1.3L1.2,-1.2L0.9,-0.9L0.8,-0.7L0.6,-0.4L0.6,-0.1L0.6,0.0L0.6,0.1L0.7,0.6L0.9,0.9L1.2,1.2L1.6,1.3L1.9,1.3L1.9,1.4L8.8,1.4L8.9,1.3L9.4,1.2L9.8,0.9L10.0,0.7L10.1,0.4L10.1,0.1L10.2,0.0L10.1,-0.1L10.1,-0.4L10.0,-0.7L9.8,-0.9L9.5,-1.2L9.2,-1.3L8.9,-1.3L8.8,-1.4L7.3,-1.4L7.2,-1.4L7.2,-7.6L7.6,-8.4L7.6,-8.6L8.0,-9.9L9.8,-11.7L11.1,-12.4L11.4,-12.4L11.5,-12.3L11.4,-11.8L11.4,-11.8L11.4,-11.7L11.4,-11.4L11.6,-11.1L11.8,-10.8L13.1,-9.6L13.4,-9.4L13.7,-9.4L13.8,-9.4L13.8,-9.4L14.3,-9.5L14.8,-9.8L14.8,-9.9L15.7,-10.8L15.9,-11.2L16.0,-11.7L16.1,-11.8L16.1,-12.8L16.0,-12.8L15.9,-13.3L15.7,-13.7L14.8,-14.6L14.7,-14.8L14.3,-15.0L13.8,-15.1L13.8,-15.1L10.8,-15.1L10.7,-15.1L10.4,-15.1L8.2,-14.0L7.3,-13.2L7.2,-13.2L7.2,-14.1L7.1,-14.4L6.8,-14.8L6.6,-14.9L6.2,-15.1L5.9,-15.1L5.9,-15.1L1.9,-15.1L1.9,-15.1Z" fill="#000" fill-rule="evenodd" transform="translate(330.50,685.10) scale(0.880,1)"/>
<path d="M18.8,-23.6L18.5,-23.8L18.2,-23.8L18.1,-23.8L18.1,-23.8L17.8,-23.8L17.5,-23.6L17.0,-23.1L16.8,-22.7L16.4,-22.1L16.2,-21.7L15.9,-21.1L15.7,-20.7L15.3,-20.1L15.1,-19.7L14.8,-19.1L14.0,-17.7L13.4,-16.7L13.2,-16.2L12.8,-15.7L12.6,-15.2L12.2,-14.7L12.1,-14.2L11.7,-13.7L11.5,-13.2L11.1,-12.7L10.9,-12.2L10.6,-11.7L10.4,-11.2L10.0,-10.7L9.8,-10.2L9.4,-9.7L8.7,-8.2L8.1,-7.2L7.9,-6.8L7.5,-6.2L7.3,-5.8L6.9,-5.2L6.8,-4.8L6.4,-4.2L6.2,-3.8L5.8,-3.2L5.6,-2.8L5.2,-2.2L5.1,-1.8L4.7,-1.2L4.5,-0.8L4.4,-0.7L3.9,0.2L3.8,0.3L3.1,1.6L2.8,2.2L2.6,2.6L2.2,3.2L2.0,3.6L1.6,4.2L1.4,4.6L1.1,5.2L0.9,5.6L0.8,5.8L0.7,6.2L0.6,6.3L0.7,6.4L0.7,6.7L0.8,6.9L1.2,7.3L1.4,7.4L1.8,7.4L1.8,7.5L1.9,7.4L2.2,7.4L2.4,7.3L2.8,6.9L2.9,6.9L3.1,6.5L3.2,6.4L3.6,5.5L4.0,4.9L4.5,3.9L4.9,3.4L5.1,2.9L5.2,2.8L5.6,1.9L6.0,1.4L6.2,0.9L6.6,0.4L7.1,-0.6L7.4,-1.2L7.6,-1.6L7.8,-1.8L8.2,-2.6L8.6,-3.2L8.8,-3.6L9.1,-4.2L9.6,-5.2L10.0,-5.8L10.2,-6.2L10.6,-6.8L10.8,-7.2L10.9,-7.3L11.3,-8.2L11.7,-8.8L11.9,-9.2L12.2,-9.8L12.8,-10.8L13.1,-11.3L13.3,-11.8L13.7,-12.3L13.9,-12.8L14.0,-12.9L14.4,-13.8L14.8,-14.3L15.3,-15.3L15.7,-15.9L15.9,-16.3L16.0,-16.4L16.4,-17.3L16.6,-17.4L17.0,-18.3L17.1,-18.4L17.6,-19.3L17.7,-19.4L18.1,-20.3L18.2,-20.4L18.4,-20.9L18.6,-21.0L19.0,-21.9L19.1,-22.0L19.2,-22.2L19.2,-22.6L19.3,-22.6L19.2,-22.7L19.2,-23.0L19.1,-23.2Z" fill="#000" fill-rule="evenodd" transform="translate(345.77,684.30)"/>
<path d="M1.4,-15.0L0.9,-14.7L0.8,-14.4L0.6,-14.1L0.6,-13.8L0.6,-13.8L0.6,-13.7L0.6,-13.4L0.8,-13.1L0.9,-12.8L1.2,-12.6L1.6,-12.4L1.9,-12.4L1.9,-12.4L3.4,-12.4L3.5,-12.3L3.5,-1.4L3.4,-1.4L1.9,-1.4L1.9,-1.3L1.6,-1.3L1.2,-1.2L0.9,-0.9L0.8,-0.7L0.6,-0.4L0.6,-0.1L0.6,0.0L0.6,0.1L0.7,0.6L0.9,0.9L1.2,1.2L1.6,1.3L1.9,1.3L1.9,1.4L8.8,1.4L8.9,1.3L9.4,1.2L9.8,0.9L10.0,0.7L10.1,0.4L10.1,0.1L10.2,0.0L10.1,-0.1L10.1,-0.4L10.0,-0.7L9.8,-0.9L9.5,-1.2L9.2,-1.3L8.9,-1.3L8.8,-1.4L7.3,-1.4L7.2,-1.4L7.2,-7.6L7.6,-8.4L7.6,-8.6L8.0,-9.9L9.8,-11.7L11.1,-12.4L11.4,-12.4L11.5,-12.3L11.4,-11.8L11.4,-11.8L11.4,-11.7L11.4,-11.4L11.6,-11.1L11.8,-10.8L13.1,-9.6L13.4,-9.4L13.7,-9.4L13.8,-9.4L13.8,-9.4L14.3,-9.5L14.8,-9.8L14.8,-9.9L15.7,-10.8L15.9,-11.2L16.0,-11.7L16.1,-11.8L16.1,-12.8L16.0,-12.8L15.9,-13.3L15.7,-13.7L14.8,-14.6L14.7,-14.8L14.3,-15.0L13.8,-15.1L13.8,-15.1L10.8,-15.1L10.7,-15.1L10.4,-15.1L8.2,-14.0L7.3,-13.2L7.2,-13.2L7.2,-14.1L7.1,-14.4L6.8,-14.8L6.6,-14.9L6.2,-15.1L5.9,-15.1L5.9,-15.1L1.9,-15.1L1.9,-15.1Z" fill="#000" fill-rule="evenodd" transform="translate(367.40,685.10) scale(0.880,1)"/>
<path d="M4.4,-9.4L4.3,-9.3L4.1,-9.3L3.0,-8.8L2.7,-8.5L1.9,-7.6L1.3,-6.5L1.2,-5.9L1.2,-5.9L1.2,-4.8L1.2,-4.7L1.3,-4.1L1.5,-3.8L1.5,-3.7L1.2,-3.4L0.6,-2.1L0.6,-1.2L0.6,-1.1L0.6,-0.8L0.9,-0.3L0.9,-0.2L0.8,-0.1L0.1,1.4L0.1,1.7L0.0,1.8L0.1,2.8L0.8,4.2L1.1,4.6L1.4,4.7L3.1,5.2L3.5,5.2L3.6,5.3L7.1,5.3L7.1,5.2L7.5,5.2L9.1,4.7L9.2,4.7L9.5,4.6L9.9,4.2L10.6,2.8L10.6,2.4L10.6,2.4L10.6,1.4L9.9,-0.1L9.5,-0.4L7.5,-1.1L6.3,-1.2L6.2,-1.2L6.3,-1.3L6.5,-1.3L7.6,-1.9L7.9,-2.1L8.8,-3.0L9.3,-4.1L9.4,-4.7L9.4,-4.8L9.4,-5.9L9.4,-5.9L9.3,-6.4L9.5,-6.6L9.8,-6.6L10.1,-6.7L10.4,-7.1L10.6,-7.3L10.6,-7.6L10.6,-7.7L10.6,-8.6L10.4,-8.9L10.1,-9.2L9.8,-9.4L9.5,-9.4L9.4,-9.4L9.4,-9.4L8.9,-9.3L7.7,-8.7L6.5,-9.3L6.3,-9.3L6.2,-9.4L5.9,-9.4L5.9,-9.4L4.8,-9.4L4.7,-9.4ZM2.4,2.0L2.7,1.5L3.0,1.4L3.6,1.7L4.1,1.7L4.1,1.8L6.9,1.8L8.0,2.1L8.2,2.2L8.0,2.6L6.9,2.9L3.6,2.9L2.7,2.6L2.6,2.5L2.4,2.1ZM4.2,-1.2L4.2,-1.3L4.4,-1.2L4.3,-1.2ZM4.0,-1.3L4.1,-1.4L4.1,-1.3L4.1,-1.2ZM3.8,-1.4L3.9,-1.4L4.0,-1.4L3.9,-1.3ZM3.1,-1.8L3.2,-1.8L3.9,-1.4L3.7,-1.4L3.1,-1.6ZM4.9,-7.1L5.7,-7.1L6.1,-6.9L6.2,-6.7L6.5,-6.2L6.5,-4.4L6.2,-3.9L6.1,-3.8L5.7,-3.6L4.9,-3.6L4.6,-3.8L4.4,-3.9L4.1,-4.4L4.1,-6.2L4.4,-6.7L4.6,-6.9Z" fill="#000" fill-rule="evenodd" transform="translate(382.00,694.30) scale(0.930,1)"/>
<path d="M1.1,-11.4L0.8,-11.2L0.4,-10.9L0.3,-10.6L0.3,-10.3L0.2,-10.2L0.3,-10.2L0.3,-9.9L0.4,-9.6L0.8,-9.2L1.1,-9.1L1.4,-9.1L1.4,-9.1L2.4,-9.1L2.4,-9.0L2.4,-1.2L2.4,-1.2L1.4,-1.2L1.4,-1.1L1.1,-1.1L0.8,-1.0L0.4,-0.6L0.3,-0.4L0.3,-0.1L0.2,0.0L0.3,0.1L0.3,0.4L0.4,0.6L0.8,1.0L1.1,1.1L1.4,1.1L1.4,1.2L6.6,1.2L6.6,1.1L6.9,1.1L7.2,1.0L7.6,0.6L7.7,0.4L7.7,0.1L7.8,0.0L7.7,-0.1L7.7,-0.4L7.6,-0.6L7.2,-1.0L6.9,-1.1L6.6,-1.1L6.6,-1.2L5.6,-1.2L5.6,-1.2L5.6,-5.7L6.1,-7.3L7.4,-8.6L8.3,-9.0L8.4,-8.9L8.3,-8.8L8.4,-8.7L8.4,-8.4L8.5,-8.1L9.4,-7.2L9.9,-6.9L10.2,-6.9L10.2,-6.8L10.3,-6.9L10.6,-6.9L10.9,-7.0L11.8,-7.9L12.1,-8.4L12.1,-8.7L12.1,-8.8L12.1,-9.5L12.1,-9.6L12.1,-9.9L11.8,-10.3L10.9,-11.2L10.6,-11.4L10.3,-11.4L10.2,-11.4L8.0,-11.4L7.9,-11.4L7.6,-11.4L5.9,-10.5L5.6,-10.2L5.5,-10.3L5.5,-10.6L5.4,-10.9L5.0,-11.2L4.8,-11.4L4.4,-11.4L4.4,-11.4L1.4,-11.4L1.4,-11.4Z" fill="#000" fill-rule="evenodd" transform="translate(163.88,597.80) scale(0.860,1)"/>
<path d="M26.1,-9.8L26.0,-9.8L25.6,-9.8L24.4,-9.4L24.4,-9.2L24.1,-9.1L23.2,-8.3L23.0,-7.9L22.6,-7.1L22.5,-6.6L22.4,-6.4L22.4,-6.2L22.3,-6.1L22.3,-5.9L22.1,-5.4L22.2,-5.2L22.1,-5.1L22.1,-3.8L22.2,-3.6L22.1,-3.5L22.2,-3.4L22.5,-2.0L23.0,-0.9L24.1,0.3L24.4,0.4L24.5,0.6L25.6,0.9L26.0,0.9L26.1,1.0L26.9,1.0L26.9,0.9L27.3,0.9L28.4,0.6L28.5,0.4L28.7,0.4L28.8,0.2L28.9,0.3L29.9,-0.9L30.3,-1.6L30.2,-1.8L30.4,-1.9L30.4,-2.1L30.4,-2.2L30.5,-2.3L30.5,-2.5L30.6,-2.6L30.6,-2.8L30.6,-2.8L30.6,-3.0L30.8,-3.6L30.8,-3.6L30.8,-3.8L30.8,-5.1L30.8,-5.2L30.8,-5.3L30.8,-5.4L30.6,-6.3L30.4,-6.6L30.4,-6.8L30.2,-7.1L30.3,-7.2L29.9,-7.9L29.7,-8.3L28.9,-9.1L28.8,-9.1L28.7,-9.2L28.5,-9.2L28.4,-9.4L27.3,-9.8L26.9,-9.8L26.9,-9.8ZM26.2,-7.8L26.7,-7.8L27.1,-7.6L27.8,-6.9L28.1,-6.1L28.1,-5.9L28.2,-5.9L28.2,-5.7L28.4,-5.1L28.4,-3.7L28.3,-3.6L28.3,-3.4L28.2,-3.4L28.1,-2.5L27.7,-1.8L27.1,-1.2L26.7,-1.0L26.2,-1.0L25.8,-1.2L25.2,-1.8L24.9,-2.4L24.7,-3.3L24.6,-3.4L24.6,-3.6L24.6,-3.6L24.6,-3.8L24.5,-3.9L24.5,-4.9L24.6,-5.0L24.6,-5.2L24.6,-5.2L24.6,-5.4L24.7,-5.5L24.9,-6.4L25.1,-6.9L25.9,-7.7ZM20.9,-9.8L20.6,-9.8L20.6,-9.8L20.5,-9.8L20.2,-9.8L20.0,-9.6L19.7,-9.2L19.6,-9.4L18.5,-9.8L18.1,-9.8L18.1,-9.8L16.8,-9.8L15.6,-9.4L15.6,-9.2L15.2,-9.1L14.4,-8.3L14.1,-7.6L13.9,-7.5L13.7,-6.9L13.3,-5.8L13.3,-5.5L13.2,-5.4L13.2,-3.4L13.3,-3.3L13.3,-3.1L13.7,-1.9L13.8,-1.8L13.8,-1.6L14.2,-0.8L14.3,-0.8L14.6,-0.4L15.2,0.3L15.6,0.4L15.7,0.6L16.8,0.9L17.2,0.9L17.2,1.0L18.1,1.0L18.1,0.9L18.5,0.9L19.6,0.6L19.7,0.4L20.0,0.3L21.1,-0.9L21.5,-1.6L21.4,-1.8L21.6,-2.1L21.4,-2.7L21.1,-2.9L20.9,-3.1L20.6,-3.1L20.6,-3.1L20.0,-2.9L19.6,-2.5L19.3,-1.8L18.8,-1.3L17.9,-1.0L17.4,-1.0L16.9,-1.2L16.4,-1.8L16.0,-2.6L15.7,-3.5L15.7,-5.3L16.0,-6.2L16.4,-7.0L17.0,-7.6L17.4,-7.8L18.0,-7.8L18.8,-7.6L19.3,-7.0L19.6,-6.1L19.8,-5.8L20.0,-5.5L20.6,-5.3L21.1,-5.5L21.4,-5.8L21.6,-6.3L21.6,-8.8L21.4,-9.4L21.1,-9.6ZM12.3,-9.6L11.8,-9.8L11.7,-9.8L11.4,-9.8L11.2,-9.6L10.9,-9.2L10.8,-9.4L9.7,-9.8L9.3,-9.8L9.2,-9.8L8.0,-9.8L7.9,-9.8L7.5,-9.8L6.4,-9.4L6.4,-9.3L6.2,-9.2L6.1,-9.1L6.0,-9.1L5.2,-8.3L4.9,-7.9L4.9,-7.6L4.9,-7.6L4.9,-6.8L4.9,-6.7L5.0,-6.2L5.4,-5.4L5.5,-5.4L5.6,-5.2L6.2,-4.6L7.1,-4.1L7.2,-4.2L7.2,-4.1L9.6,-3.3L10.2,-3.0L10.8,-2.5L10.8,-1.6L10.4,-1.3L9.6,-1.0L8.5,-1.0L7.6,-1.3L7.2,-1.8L6.9,-2.8L6.8,-2.9L6.7,-3.1L6.4,-3.3L5.9,-3.5L5.3,-3.3L5.1,-3.1L4.9,-2.5L4.9,0.0L5.1,0.6L5.3,0.8L5.9,1.0L5.9,0.9L6.2,0.9L6.4,0.8L6.8,0.4L6.9,0.6L8.0,0.9L8.3,0.9L8.4,1.0L9.7,1.0L9.8,0.9L10.1,0.9L11.2,0.6L11.3,0.4L11.6,0.3L12.4,-0.5L12.7,-0.9L12.7,-1.2L12.8,-1.2L12.8,-2.9L12.7,-3.0L12.6,-3.5L12.2,-4.2L12.2,-4.2L12.0,-4.4L12.1,-4.5L11.6,-4.9L11.4,-5.0L11.4,-5.1L11.1,-5.2L10.6,-5.5L10.4,-5.5L10.3,-5.6L7.9,-6.4L7.3,-6.7L6.9,-7.1L7.3,-7.6L8.1,-7.8L9.2,-7.8L9.9,-7.6L10.5,-7.0L10.8,-6.1L10.9,-5.8L11.2,-5.5L11.4,-5.4L11.7,-5.4L11.8,-5.3L11.8,-5.4L12.1,-5.4L12.3,-5.5L12.6,-5.8L12.8,-6.3L12.8,-8.8L12.6,-9.4ZM0.5,-9.8L0.2,-9.6L0.0,-9.4L-0.2,-8.8L0.0,-8.2L0.2,-8.0L0.5,-7.9L0.8,-7.9L1.1,-7.8L1.1,-1.1L1.1,-1.0L0.5,-0.9L0.2,-0.8L0.0,-0.6L-0.2,0.0L-0.1,0.1L-0.1,0.3L0.0,0.6L0.2,0.8L0.8,1.0L3.8,1.0L3.8,0.9L4.1,0.9L4.3,0.8L4.6,0.6L4.8,0.0L4.6,-0.6L4.3,-0.8L4.1,-0.9L3.8,-0.9L3.5,-1.1L3.5,-7.8L3.8,-7.9L4.1,-7.9L4.3,-8.0L4.6,-8.2L4.8,-8.8L4.7,-8.9L4.7,-9.1L4.6,-9.4L4.3,-9.6L3.8,-9.8L0.8,-9.8L0.8,-9.8Z" fill="#000" fill-rule="evenodd" transform="translate(175.69,604.70)"/>
<path d="M-7.6,-2.7L-7.6,0L-3,0L-3,-3L-5.5,-5.5L-7.3,-8.5L-8,-12L-7.5,-15.5L-5.8,-18.5L-3,-20.4L0,-21L3,-20.4L5.8,-18.5L7.5,-15.5L8,-12L7.3,-8.5L5.5,-5.5L3,-3L3,0L7.6,0L7.6,-2.7M-6.6,-15.4L-7,-12L-6.4,-8.8L-4.8,-6M6.6,-15.4L7,-12L6.4,-8.8L4.8,-6" fill="none" stroke="#000" stroke-width="2.895" stroke-linejoin="round" stroke-linecap="round" transform="translate(434.10,345.40) rotate(20.00) translate(0.00,7.98) scale(0.7600,0.7600)"/>
<path d="M-7.6,-2.7L-7.6,0L-3,0L-3,-3L-5.5,-5.5L-7.3,-8.5L-8,-12L-7.5,-15.5L-5.8,-18.5L-3,-20.4L0,-21L3,-20.4L5.8,-18.5L7.5,-15.5L8,-12L7.3,-8.5L5.5,-5.5L3,-3L3,0L7.6,0L7.6,-2.7M-6.6,-15.4L-7,-12L-6.4,-8.8L-4.8,-6M6.6,-15.4L7,-12L6.4,-8.8L4.8,-6" fill="none" stroke="#000" stroke-width="3.056" stroke-linejoin="round" stroke-linecap="round" transform="translate(334.80,126.20) rotate(25.00) translate(0.00,7.56) scale(0.7200,0.7200)"/>
<path d="M9.4,-14.1L9.3,-14.0L8.9,-13.9L8.7,-13.8L8.4,-13.4L8.3,-13.0L8.2,-12.9L8.2,-7.7L8.2,-7.6L2.9,-7.6L2.8,-7.6L2.4,-7.5L2.2,-7.4L1.9,-7.0L1.8,-6.6L1.8,-6.5L1.8,-6.4L1.9,-6.0L2.0,-5.8L2.4,-5.5L2.8,-5.4L2.9,-5.4L8.2,-5.4L8.2,-5.3L8.2,0.0L8.3,0.1L8.4,0.5L8.5,0.7L8.9,1.0L9.3,1.1L9.4,1.1L9.4,1.1L9.9,1.0L10.1,0.9L10.4,0.5L10.4,0.1L10.5,0.0L10.5,-5.3L10.6,-5.4L15.8,-5.4L15.9,-5.4L16.3,-5.5L16.5,-5.6L16.8,-6.0L16.9,-6.4L16.9,-6.5L16.9,-6.6L16.8,-7.0L16.7,-7.2L16.3,-7.5L15.9,-7.6L15.8,-7.6L10.6,-7.6L10.5,-7.7L10.5,-12.9L10.4,-13.0L10.4,-13.4L10.2,-13.6L9.9,-13.9L9.4,-14.0Z" fill="#000" fill-rule="evenodd" transform="translate(350.10,134.55) rotate(25.00) translate(-8.41,5.82) scale(0.900,0.900)"/>
<path d="M-4,-14L-7.2,0M-3,-14L-6.2,0M-4.5,-14L-3,-14M-4.6,-6.3L-1.4,-11.2L1,-13.2L3.5,-14L6,-14L7.6,-13.2L8,-11.8M-3.5,-5.8L-0.8,-4.8L0.6,-1L2.2,0L4.4,0L6.1,-1.5L7,-3.5" fill="none" stroke="#000" stroke-width="3.056" stroke-linejoin="round" stroke-linecap="round" transform="translate(374.49,147.57) rotate(25.00) translate(-0.29,5.04) scale(0.7200,0.7200)"/>
<path d="M13.9,-17.8L13.4,-17.8L13.4,-17.9L13.3,-17.8L12.9,-17.8L12.7,-17.6L12.3,-17.2L12.1,-16.8L11.8,-16.2L11.6,-15.8L11.2,-15.2L11.0,-14.8L10.6,-14.2L10.4,-13.8L10.1,-13.2L9.9,-12.8L9.5,-12.2L9.3,-11.8L8.9,-11.2L8.8,-10.8L8.4,-10.2L8.2,-9.8L7.8,-9.2L7.6,-8.8L7.2,-8.2L7.1,-7.8L6.7,-7.2L6.5,-6.8L6.1,-6.2L5.9,-5.8L5.6,-5.2L5.4,-4.8L5.0,-4.2L4.8,-3.8L4.4,-3.2L4.2,-2.8L4.1,-2.6L3.7,-1.8L3.3,-1.2L3.1,-0.8L2.8,-0.2L2.6,0.2L2.2,0.8L2.0,1.2L1.6,1.8L1.4,2.2L1.1,2.8L0.9,3.2L0.5,3.8L0.3,4.2L0.2,4.6L0.2,4.7L0.2,4.8L0.3,5.2L0.4,5.4L0.8,5.7L1.2,5.8L1.3,5.8L1.4,5.8L1.6,5.8L2.0,5.6L2.2,5.3L2.4,5.2L3.1,3.9L3.4,3.3L3.6,2.9L4.0,2.3L4.2,1.9L4.6,1.3L4.8,0.9L5.1,0.3L5.3,-0.1L5.7,-0.7L5.9,-1.1L6.2,-1.7L6.4,-2.1L6.8,-2.7L7.0,-3.1L7.4,-3.7L7.6,-4.1L7.9,-4.7L8.1,-5.1L8.5,-5.7L8.7,-6.1L9.1,-6.7L9.6,-7.7L9.9,-8.2L10.1,-8.7L10.5,-9.2L10.7,-9.7L11.1,-10.2L11.2,-10.7L11.6,-11.2L11.8,-11.7L12.2,-12.2L12.4,-12.7L12.8,-13.2L12.9,-13.7L13.3,-14.2L13.5,-14.7L13.9,-15.2L14.1,-15.7L14.4,-16.2L14.4,-16.7L14.5,-16.8L14.4,-16.8L14.4,-17.2L14.2,-17.4Z" fill="#000" fill-rule="evenodd" transform="translate(388.85,152.73) rotate(25.00) translate(-6.98,6.03) scale(0.950,1.000)"/>
<path d="M0.4,-10.6L0.4,-10.1L0.3,-10.1L0.4,-10.0L0.4,-9.8L0.4,-9.6L0.8,-9.2L0.9,-9.1L1.4,-9.0L1.4,-8.9L2.4,-8.9L2.5,-8.9L2.5,-1.2L2.4,-1.1L1.4,-1.1L1.4,-1.1L1.1,-1.1L0.9,-1.0L0.6,-0.7L0.4,-0.5L0.4,-0.1L0.3,0.0L0.4,0.1L0.4,0.3L0.6,0.7L0.9,1.0L1.4,1.1L1.4,1.1L6.5,1.1L6.6,1.1L7.0,1.0L7.4,0.7L7.5,0.5L7.6,0.1L7.6,0.0L7.6,-0.1L7.5,-0.5L7.2,-0.9L7.0,-1.0L6.6,-1.1L6.5,-1.1L5.5,-1.1L5.4,-1.2L5.4,-7.4L6.4,-8.4L8.0,-8.9L9.2,-8.9L9.9,-8.6L10.4,-7.8L10.4,-1.2L10.3,-1.1L9.4,-1.1L9.3,-1.1L9.1,-1.1L8.9,-1.0L8.5,-0.7L8.4,-0.5L8.3,-0.1L8.2,0.0L8.3,0.1L8.3,0.3L8.5,0.7L8.9,1.0L9.3,1.1L9.4,1.1L14.4,1.1L14.4,1.1L14.9,1.0L15.2,0.7L15.4,0.5L15.4,0.1L15.5,0.0L15.4,-0.1L15.4,-0.5L15.1,-0.9L14.7,-1.1L14.4,-1.1L14.4,-1.1L13.4,-1.1L13.4,-1.2L13.4,-7.4L14.3,-8.4L15.9,-8.9L17.1,-8.9L17.8,-8.6L17.9,-8.4L18.3,-7.7L18.3,-1.2L18.2,-1.1L17.2,-1.1L17.2,-1.1L16.8,-1.0L16.6,-0.9L16.2,-0.5L16.2,-0.1L16.1,0.0L16.2,0.1L16.2,0.5L16.4,0.7L16.8,1.0L17.2,1.1L17.2,1.1L22.3,1.1L22.4,1.1L22.8,1.0L23.0,0.9L23.3,0.5L23.4,0.1L23.4,0.0L23.4,-0.1L23.4,-0.3L23.3,-0.5L23.0,-0.9L22.8,-1.0L22.4,-1.1L22.3,-1.1L21.4,-1.1L21.3,-1.2L21.3,-7.9L21.2,-8.0L21.2,-8.4L20.5,-9.8L20.1,-10.2L19.8,-10.4L17.8,-11.1L17.3,-11.1L17.2,-11.2L15.8,-11.2L15.8,-11.1L15.3,-11.1L13.4,-10.5L13.0,-10.2L12.6,-9.8L12.2,-10.2L11.9,-10.4L9.8,-11.1L9.4,-11.1L9.4,-11.2L7.9,-11.2L7.9,-11.1L7.4,-11.1L5.4,-10.4L5.3,-10.5L5.2,-10.8L4.8,-11.1L4.4,-11.1L4.3,-11.2L1.4,-11.2L1.4,-11.1L0.9,-11.1L0.8,-10.9Z" fill="#000" fill-rule="evenodd" transform="translate(405.89,162.11) rotate(25.00) translate(-10.45,5.03) scale(0.880,1.000)"/>
<path d="M-7.6,-2.7L-7.6,0L-3,0L-3,-3L-5.5,-5.5L-7.3,-8.5L-8,-12L-7.5,-15.5L-5.8,-18.5L-3,-20.4L0,-21L3,-20.4L5.8,-18.5L7.5,-15.5L8,-12L7.3,-8.5L5.5,-5.5L3,-3L3,0L7.6,0L7.6,-2.7M-6.6,-15.4L-7,-12L-6.4,-8.8L-4.8,-6M6.6,-15.4L7,-12L6.4,-8.8L4.8,-6" fill="none" stroke="#000" stroke-width="3.056" stroke-linejoin="round" stroke-linecap="round" transform="translate(334.80,500.50) rotate(18.00) translate(0.00,7.56) scale(0.7200,0.7200)"/>
<path d="M1.8,-6.5L1.8,-6.4L1.9,-6.0L2.0,-5.8L2.4,-5.5L2.8,-5.4L2.9,-5.4L15.8,-5.4L15.9,-5.4L16.3,-5.5L16.5,-5.6L16.8,-6.0L16.9,-6.4L16.9,-6.5L16.9,-6.6L16.8,-7.0L16.7,-7.2L16.3,-7.5L15.9,-7.6L15.8,-7.6L2.9,-7.6L2.8,-7.6L2.4,-7.5L2.2,-7.4L1.9,-7.0L1.8,-6.6Z" fill="#000" fill-rule="evenodd" transform="translate(351.01,506.92) rotate(18.00) translate(-8.41,5.85) scale(0.900,0.900)"/>
<path d="M-4,-14L-7.2,0M-3,-14L-6.2,0M-4.5,-14L-3,-14M-4.6,-6.3L-1.4,-11.2L1,-13.2L3.5,-14L6,-14L7.6,-13.2L8,-11.8M-3.5,-5.8L-0.8,-4.8L0.6,-1L2.2,0L4.4,0L6.1,-1.5L7,-3.5" fill="none" stroke="#000" stroke-width="3.056" stroke-linejoin="round" stroke-linecap="round" transform="translate(376.79,516.88) rotate(18.00) translate(-0.29,5.04) scale(0.7200,0.7200)"/>
<path d="M13.9,-17.8L13.4,-17.8L13.4,-17.9L13.3,-17.8L12.9,-17.8L12.7,-17.6L12.3,-17.2L12.1,-16.8L11.8,-16.2L11.6,-15.8L11.2,-15.2L11.0,-14.8L10.6,-14.2L10.4,-13.8L10.1,-13.2L9.9,-12.8L9.5,-12.2L9.3,-11.8L8.9,-11.2L8.8,-10.8L8.4,-10.2L8.2,-9.8L7.8,-9.2L7.6,-8.8L7.2,-8.2L7.1,-7.8L6.7,-7.2L6.5,-6.8L6.1,-6.2L5.9,-5.8L5.6,-5.2L5.4,-4.8L5.0,-4.2L4.8,-3.8L4.4,-3.2L4.2,-2.8L4.1,-2.6L3.7,-1.8L3.3,-1.2L3.1,-0.8L2.8,-0.2L2.6,0.2L2.2,0.8L2.0,1.2L1.6,1.8L1.4,2.2L1.1,2.8L0.9,3.2L0.5,3.8L0.3,4.2L0.2,4.6L0.2,4.7L0.2,4.8L0.3,5.2L0.4,5.4L0.8,5.7L1.2,5.8L1.3,5.8L1.4,5.8L1.6,5.8L2.0,5.6L2.2,5.3L2.4,5.2L3.1,3.9L3.4,3.3L3.6,2.9L4.0,2.3L4.2,1.9L4.6,1.3L4.8,0.9L5.1,0.3L5.3,-0.1L5.7,-0.7L5.9,-1.1L6.2,-1.7L6.4,-2.1L6.8,-2.7L7.0,-3.1L7.4,-3.7L7.6,-4.1L7.9,-4.7L8.1,-5.1L8.5,-5.7L8.7,-6.1L9.1,-6.7L9.6,-7.7L9.9,-8.2L10.1,-8.7L10.5,-9.2L10.7,-9.7L11.1,-10.2L11.2,-10.7L11.6,-11.2L11.8,-11.7L12.2,-12.2L12.4,-12.7L12.8,-13.2L12.9,-13.7L13.3,-14.2L13.5,-14.7L13.9,-15.2L14.1,-15.7L14.4,-16.2L14.4,-16.7L14.5,-16.8L14.4,-16.8L14.4,-17.2L14.2,-17.4Z" fill="#000" fill-rule="evenodd" transform="translate(391.68,520.24) rotate(18.00) translate(-6.98,6.03) scale(0.950,1.000)"/>
<path d="M0.4,-10.6L0.4,-10.1L0.3,-10.1L0.4,-10.0L0.4,-9.8L0.4,-9.6L0.8,-9.2L0.9,-9.1L1.4,-9.0L1.4,-8.9L2.4,-8.9L2.5,-8.9L2.5,-1.2L2.4,-1.1L1.4,-1.1L1.4,-1.1L1.1,-1.1L0.9,-1.0L0.6,-0.7L0.4,-0.5L0.4,-0.1L0.3,0.0L0.4,0.1L0.4,0.3L0.6,0.7L0.9,1.0L1.4,1.1L1.4,1.1L6.5,1.1L6.6,1.1L7.0,1.0L7.4,0.7L7.5,0.5L7.6,0.1L7.6,0.0L7.6,-0.1L7.5,-0.5L7.2,-0.9L7.0,-1.0L6.6,-1.1L6.5,-1.1L5.5,-1.1L5.4,-1.2L5.4,-7.4L6.4,-8.4L8.0,-8.9L9.2,-8.9L9.9,-8.6L10.4,-7.8L10.4,-1.2L10.3,-1.1L9.4,-1.1L9.3,-1.1L9.1,-1.1L8.9,-1.0L8.5,-0.7L8.4,-0.5L8.3,-0.1L8.2,0.0L8.3,0.1L8.3,0.3L8.5,0.7L8.9,1.0L9.3,1.1L9.4,1.1L14.4,1.1L14.4,1.1L14.9,1.0L15.2,0.7L15.4,0.5L15.4,0.1L15.5,0.0L15.4,-0.1L15.4,-0.5L15.1,-0.9L14.7,-1.1L14.4,-1.1L14.4,-1.1L13.4,-1.1L13.4,-1.2L13.4,-7.4L14.3,-8.4L15.9,-8.9L17.1,-8.9L17.8,-8.6L17.9,-8.4L18.3,-7.7L18.3,-1.2L18.2,-1.1L17.2,-1.1L17.2,-1.1L16.8,-1.0L16.6,-0.9L16.2,-0.5L16.2,-0.1L16.1,0.0L16.2,0.1L16.2,0.5L16.4,0.7L16.8,1.0L17.2,1.1L17.2,1.1L22.3,1.1L22.4,1.1L22.8,1.0L23.0,0.9L23.3,0.5L23.4,0.1L23.4,0.0L23.4,-0.1L23.4,-0.3L23.3,-0.5L23.0,-0.9L22.8,-1.0L22.4,-1.1L22.3,-1.1L21.4,-1.1L21.3,-1.2L21.3,-7.9L21.2,-8.0L21.2,-8.4L20.5,-9.8L20.1,-10.2L19.8,-10.4L17.8,-11.1L17.3,-11.1L17.2,-11.2L15.8,-11.2L15.8,-11.1L15.3,-11.1L13.4,-10.5L13.0,-10.2L12.6,-9.8L12.2,-10.2L11.9,-10.4L9.8,-11.1L9.4,-11.1L9.4,-11.2L7.9,-11.2L7.9,-11.1L7.4,-11.1L5.4,-10.4L5.3,-10.5L5.2,-10.8L4.8,-11.1L4.4,-11.1L4.3,-11.2L1.4,-11.2L1.4,-11.1L0.9,-11.1L0.8,-10.9Z" fill="#000" fill-rule="evenodd" transform="translate(409.73,527.48) rotate(18.00) translate(-10.45,5.03) scale(0.880,1.000)"/>
<path d="M-4,-14L-6,-13L-8,-10.5L-9,-7.5L-9,-4.5L-8,-1.5L-6,0L-4,0L-2,-1.2L-0.5,-4L0,-8.4M0,-8.4L0.5,-4L2,-1.2L4,0L6,0L8,-1.5L9,-4.5L9,-7.5L8,-10.5L6,-13L4,-14M-8,-7.5L-8,-4.5L-7,-1.8M8,-7.5L8,-4.5L7,-1.8" fill="none" stroke="#000" stroke-width="2.400" stroke-linejoin="round" stroke-linecap="round" transform="translate(28.20,400.15) rotate(-90.00) translate(0.00,0.00) scale(0.9000,1.0000)"/>
<path d="M19.2,-24.2L19.0,-24.4L18.7,-24.4L18.6,-24.4L18.6,-24.4L18.2,-24.4L18.0,-24.2L17.5,-23.8L17.3,-23.3L16.9,-22.8L16.8,-22.3L16.4,-21.8L16.2,-21.3L15.8,-20.8L15.6,-20.3L15.2,-19.8L15.1,-19.3L14.7,-18.8L14.5,-18.3L14.1,-17.8L13.9,-17.3L13.6,-16.8L13.4,-16.3L13.0,-15.8L12.8,-15.3L12.4,-14.8L12.2,-14.3L11.9,-13.8L11.7,-13.3L11.3,-12.8L11.1,-12.3L10.8,-11.8L10.6,-11.3L10.2,-10.8L9.4,-9.3L8.8,-8.3L8.6,-7.9L8.2,-7.3L8.1,-6.9L7.7,-6.3L7.5,-5.9L7.1,-5.3L6.9,-4.9L6.6,-4.3L6.4,-3.9L6.0,-3.3L5.8,-2.9L5.4,-2.3L5.2,-1.9L4.9,-1.3L4.7,-0.9L4.6,-0.8L4.1,0.1L3.8,0.7L3.6,1.1L3.2,1.7L3.0,2.1L2.6,2.7L2.4,3.1L2.1,3.7L1.9,4.1L1.5,4.7L1.3,5.1L0.9,5.7L0.8,6.1L0.8,6.4L0.7,6.5L0.8,6.6L0.8,6.9L0.9,7.1L1.2,7.5L1.5,7.6L1.8,7.6L1.9,7.7L1.9,7.6L2.2,7.6L2.5,7.5L3.0,6.9L3.2,6.5L3.6,5.9L3.8,5.5L4.1,4.9L4.3,4.5L4.7,3.9L4.9,3.5L5.2,2.9L5.4,2.5L5.8,1.9L6.0,1.5L6.4,0.9L6.6,0.5L6.9,-0.1L7.1,-0.5L7.5,-1.1L7.7,-1.5L8.1,-2.1L8.2,-2.5L8.6,-3.1L8.8,-3.5L9.2,-4.1L9.4,-4.5L9.8,-5.1L9.9,-5.5L10.3,-6.1L10.5,-6.5L10.9,-7.1L11.1,-7.5L11.4,-8.1L11.6,-8.5L12.0,-9.1L12.2,-9.5L12.6,-10.1L12.8,-10.5L13.1,-11.1L13.3,-11.5L13.7,-12.1L13.9,-12.5L14.2,-13.1L14.4,-13.5L14.8,-14.1L15.0,-14.5L15.4,-15.1L15.6,-15.5L15.9,-16.1L16.1,-16.5L16.2,-16.6L16.7,-17.5L16.8,-17.6L17.2,-18.5L17.4,-18.6L17.8,-19.5L17.9,-19.6L18.4,-20.5L18.5,-20.6L18.9,-21.5L19.1,-21.6L19.5,-22.5L19.6,-22.6L19.8,-22.9L19.8,-23.2L19.8,-23.2L19.8,-23.3L19.8,-23.6L19.6,-23.9Z" fill="#000" fill-rule="evenodd" transform="translate(18.65,378.70) rotate(-90.00) translate(-9.43,8.38) scale(0.920,1.000)"/>
<path d="M10.2,-24.4L10.2,-24.4L9.9,-24.4L9.4,-24.1L7.6,-22.2L7.5,-22.2L7.6,-22.2L7.3,-22.0L5.6,-19.4L4.3,-16.8L4.2,-16.7L3.6,-15.4L3.5,-15.1L3.4,-15.0L3.4,-14.8L3.4,-14.7L3.4,-14.4L3.3,-14.4L3.3,-14.1L3.2,-14.1L3.2,-13.8L3.2,-13.8L3.2,-13.5L3.1,-13.4L3.1,-13.2L3.1,-13.1L3.1,-12.9L3.0,-12.8L3.0,-12.6L2.9,-12.5L2.9,-12.2L2.9,-12.2L2.9,-11.9L2.8,-11.9L2.8,-11.6L2.8,-11.6L2.8,-11.3L2.7,-11.2L2.7,-11.0L2.6,-10.9L2.6,-10.7L2.6,-10.6L2.6,-10.4L2.6,-10.4L2.6,-10.2L2.6,-6.5L2.6,-6.4L2.6,-6.1L2.6,-6.0L2.6,-5.8L2.7,-5.7L2.7,-5.4L2.8,-5.4L2.8,-5.1L2.8,-5.1L2.8,-4.8L2.9,-4.8L2.9,-4.5L2.9,-4.4L2.9,-4.2L3.0,-4.1L3.0,-3.9L3.1,-3.8L3.1,-3.6L3.1,-3.5L3.1,-3.2L3.2,-3.2L3.2,-2.9L3.2,-2.9L3.2,-2.6L3.3,-2.6L3.3,-2.3L3.4,-2.2L3.4,-2.0L3.4,-1.9L3.4,-1.7L3.6,-1.3L5.4,2.3L6.9,4.5L6.9,4.7L7.3,5.2L7.6,5.4L7.5,5.5L9.4,7.4L9.4,7.3L9.6,7.5L9.9,7.6L10.2,7.6L10.2,7.7L10.3,7.6L10.6,7.6L10.9,7.5L11.2,7.1L11.4,6.9L11.4,6.6L11.4,6.5L11.4,6.4L11.4,6.1L11.2,5.9L9.4,4.0L7.6,0.4L6.7,-2.2L6.7,-2.5L6.6,-2.6L6.6,-2.8L6.6,-2.9L6.6,-3.1L6.5,-3.2L6.5,-3.4L6.4,-3.5L6.4,-3.8L6.4,-3.8L6.4,-4.1L6.3,-4.1L6.3,-4.4L6.2,-4.4L6.2,-4.7L6.2,-4.8L6.2,-5.0L6.1,-5.1L6.1,-5.3L6.1,-5.4L6.1,-5.6L6.0,-5.7L6.0,-5.9L5.9,-6.0L5.9,-6.2L5.8,-6.6L5.8,-10.1L5.9,-10.1L5.9,-10.4L5.9,-10.4L5.9,-10.7L6.0,-10.8L6.0,-11.0L6.1,-11.1L6.1,-11.3L6.1,-11.4L6.1,-11.6L6.2,-11.7L6.2,-11.9L6.2,-12.0L6.2,-12.2L6.3,-12.3L6.3,-12.6L6.4,-12.6L6.4,-12.9L6.4,-12.9L6.4,-13.2L6.5,-13.2L6.7,-14.4L6.8,-14.5L6.8,-14.7L7.6,-17.1L8.8,-19.4L8.8,-19.6L9.3,-20.7L11.2,-22.6L11.4,-22.9L11.4,-23.2L11.4,-23.2L11.4,-23.3L11.4,-23.6L11.2,-23.9L10.9,-24.2L10.6,-24.4L10.3,-24.4Z" fill="#000" fill-rule="evenodd" transform="translate(18.90,361.45) rotate(-90.00) translate(-6.09,8.38) scale(0.870,1.000)"/>
<path d="M0.9,-14.4L0.9,-14.1L0.8,-14.0L0.9,-13.9L0.9,-13.6L1.0,-13.4L1.4,-13.0L1.6,-12.9L1.9,-12.9L2.0,-12.8L3.8,-12.8L3.8,-12.8L3.8,-1.2L3.8,-1.2L2.0,-1.2L1.9,-1.1L1.6,-1.1L1.4,-1.0L1.0,-0.6L0.9,-0.4L0.9,-0.1L0.8,0.0L0.9,0.1L0.9,0.4L1.0,0.6L1.4,1.0L1.6,1.1L1.9,1.1L2.0,1.2L9.0,1.2L9.1,1.1L9.4,1.1L9.6,1.0L10.0,0.6L10.1,0.4L10.1,0.1L10.2,0.0L10.1,-0.1L10.1,-0.4L10.0,-0.6L9.6,-1.0L9.4,-1.1L9.1,-1.1L9.0,-1.2L7.2,-1.2L7.2,-1.2L7.2,-10.6L8.6,-11.9L11.1,-12.8L12.8,-12.8L14.1,-12.2L14.2,-12.1L14.8,-10.8L14.8,-1.2L14.8,-1.2L13.0,-1.2L12.9,-1.1L12.6,-1.1L12.4,-1.0L12.0,-0.6L11.9,-0.4L11.9,-0.1L11.8,0.0L11.9,0.1L11.9,0.4L12.0,0.6L12.4,1.0L12.6,1.1L12.9,1.1L13.0,1.2L20.0,1.2L20.1,1.1L20.4,1.1L20.6,1.0L21.0,0.6L21.1,0.4L21.1,0.1L21.2,0.0L21.1,-0.1L21.1,-0.4L21.0,-0.6L20.6,-1.0L20.4,-1.1L20.1,-1.1L20.0,-1.2L18.2,-1.2L18.2,-1.2L18.2,-10.6L19.6,-11.9L22.1,-12.8L23.8,-12.8L25.1,-12.2L25.2,-12.1L25.8,-10.8L25.8,-1.2L25.8,-1.2L24.0,-1.2L23.9,-1.1L23.6,-1.1L23.4,-1.0L23.0,-0.6L22.9,-0.4L22.9,-0.1L22.8,0.0L22.9,0.1L22.9,0.4L23.0,0.6L23.4,1.0L23.6,1.1L23.9,1.1L24.0,1.2L31.0,1.2L31.1,1.1L31.4,1.1L31.6,1.0L32.0,0.6L32.1,0.4L32.1,0.1L32.2,0.0L32.1,-0.1L32.1,-0.4L32.0,-0.6L31.6,-1.0L31.4,-1.1L31.1,-1.1L31.0,-1.2L29.2,-1.2L29.2,-1.2L29.2,-11.0L29.1,-11.1L29.1,-11.4L28.0,-13.6L27.6,-14.0L27.2,-14.2L24.4,-15.1L24.1,-15.1L24.0,-15.2L22.0,-15.2L21.9,-15.1L21.6,-15.1L18.8,-14.2L18.4,-14.0L17.4,-13.0L17.3,-13.0L17.0,-13.6L16.6,-14.0L16.2,-14.2L13.4,-15.1L13.1,-15.1L13.0,-15.2L11.0,-15.2L10.9,-15.1L10.6,-15.1L7.8,-14.2L7.2,-13.9L7.1,-14.1L7.1,-14.4L7.0,-14.6L6.6,-15.0L6.4,-15.1L6.1,-15.1L6.0,-15.2L2.0,-15.2L1.9,-15.1L1.6,-15.1L1.4,-15.0L1.0,-14.6Z" fill="#000" fill-rule="evenodd" transform="translate(28.20,338.80) rotate(-90.00) translate(-14.52,0.00) scale(0.880,1.000)"/>
<path d="M-7.6,-2.7L-7.6,0L-3,0L-3,-3L-5.5,-5.5L-7.3,-8.5L-8,-12L-7.5,-15.5L-5.8,-18.5L-3,-20.4L0,-21L3,-20.4L5.8,-18.5L7.5,-15.5L8,-12L7.3,-8.5L5.5,-5.5L3,-3L3,0L7.6,0L7.6,-2.7M-6.6,-15.4L-7,-12L-6.4,-8.8L-4.8,-6M6.6,-15.4L7,-12L6.4,-8.8L4.8,-6" fill="none" stroke="#000" stroke-width="2.400" stroke-linejoin="round" stroke-linecap="round" transform="translate(28.20,312.90) rotate(-90.00) translate(0.00,0.00) scale(0.9600,1.0000)"/>
<path d="M6.9,-9.1L6.8,-8.9L6.8,-8.4L6.7,-8.4L6.8,-8.3L6.8,-7.9L7.1,-7.5L7.5,-7.3L7.8,-7.3L7.8,-7.2L8.4,-7.2L8.5,-7.2L8.5,-1.2L8.4,-1.1L7.8,-1.1L7.8,-1.1L7.5,-1.1L7.3,-1.0L6.9,-0.7L6.8,-0.5L6.8,-0.1L6.7,0.0L6.8,0.1L6.8,0.5L7.1,0.9L7.3,1.0L7.8,1.1L7.8,1.1L12.0,1.1L12.1,1.1L12.5,1.0L12.9,0.7L13.0,0.5L13.1,0.1L13.1,0.0L13.1,-0.1L13.0,-0.5L12.7,-0.9L12.3,-1.1L12.1,-1.1L12.0,-1.1L11.4,-1.1L11.3,-1.2L11.3,-6.1L12.0,-6.8L13.2,-7.2L14.2,-7.2L14.7,-7.0L14.9,-6.8L15.1,-6.4L15.1,-1.2L15.0,-1.1L14.4,-1.1L14.3,-1.1L14.1,-1.1L13.9,-1.0L13.5,-0.7L13.4,-0.5L13.3,-0.1L13.2,0.0L13.3,0.1L13.4,0.5L13.5,0.7L13.9,1.0L14.3,1.1L14.4,1.1L18.6,1.1L18.7,1.1L19.1,1.0L19.5,0.7L19.6,0.5L19.7,0.1L19.8,0.0L19.7,-0.1L19.6,-0.5L19.3,-0.9L18.9,-1.1L18.7,-1.1L18.6,-1.1L18.0,-1.1L17.9,-1.2L17.9,-6.6L17.9,-6.7L17.8,-7.1L17.2,-8.2L16.9,-8.7L16.6,-8.9L14.9,-9.4L14.4,-9.4L14.4,-9.5L13.2,-9.5L13.1,-9.4L12.7,-9.4L11.3,-8.9L11.1,-8.9L11.1,-9.1L10.7,-9.4L10.2,-9.4L10.2,-9.5L7.8,-9.5L7.8,-9.4L7.3,-9.4ZM0.7,-9.4L0.5,-9.2L0.2,-8.9L0.1,-8.4L0.1,-8.4L0.1,-8.3L0.2,-7.9L0.3,-7.7L0.7,-7.4L1.1,-7.3L1.2,-7.2L1.8,-7.2L1.9,-7.2L1.9,-1.2L1.8,-1.1L1.2,-1.1L1.1,-1.1L0.9,-1.1L0.5,-0.9L0.3,-0.7L0.1,-0.3L0.1,-0.1L0.1,0.0L0.1,0.1L0.2,0.5L0.3,0.7L0.7,1.0L1.1,1.1L1.2,1.1L5.4,1.1L5.4,1.1L5.9,1.0L6.1,0.9L6.4,0.5L6.4,0.1L6.5,0.0L6.4,-0.1L6.4,-0.5L6.2,-0.7L5.9,-1.0L5.4,-1.1L5.4,-1.1L4.8,-1.1L4.8,-1.2L4.8,-8.4L4.7,-8.4L4.6,-8.9L4.5,-9.1L4.1,-9.4L3.7,-9.4L3.6,-9.5L1.2,-9.5L1.1,-9.4ZM3.0,-13.8L2.9,-13.7L2.5,-13.6L2.3,-13.5L1.5,-12.7L1.4,-12.5L1.3,-12.1L1.2,-12.0L1.3,-11.9L1.4,-11.5L1.5,-11.3L2.3,-10.5L2.5,-10.4L2.9,-10.3L3.0,-10.2L3.1,-10.3L3.5,-10.4L3.7,-10.5L4.5,-11.3L4.6,-11.5L4.7,-11.9L4.8,-12.0L4.7,-12.1L4.6,-12.5L4.5,-12.7L3.7,-13.5L3.5,-13.6L3.1,-13.7Z" fill="#000" fill-rule="evenodd" transform="translate(36.80,293.45) rotate(-90.00) translate(-8.92,0.00) scale(0.900,1.000)"/>
<path d="M2.8,-24.4L2.8,-24.4L2.4,-24.4L2.2,-24.2L1.8,-23.9L1.7,-23.6L1.7,-23.3L1.6,-23.2L1.7,-23.2L1.7,-22.9L1.9,-22.4L3.7,-20.7L5.4,-17.2L6.3,-14.6L6.3,-14.3L6.4,-14.2L6.4,-14.0L6.4,-13.9L6.4,-13.7L6.5,-13.6L6.5,-13.4L6.6,-13.3L6.6,-13.1L6.6,-13.0L6.6,-12.8L6.7,-12.7L6.7,-12.4L6.8,-12.4L6.8,-12.1L6.8,-12.1L6.8,-11.8L6.9,-11.8L6.9,-11.5L6.9,-11.4L6.9,-11.2L7.0,-11.1L7.0,-10.9L7.1,-10.8L7.1,-10.6L7.2,-10.2L7.2,-6.6L7.1,-6.5L7.1,-6.2L7.1,-6.2L7.1,-5.9L7.0,-5.9L7.0,-5.6L6.9,-5.6L6.9,-5.3L6.9,-5.2L6.9,-5.0L6.8,-4.9L6.8,-4.7L6.8,-4.6L6.8,-4.4L6.7,-4.3L6.7,-4.1L6.6,-4.0L6.6,-3.8L6.6,-3.7L6.6,-3.4L6.5,-3.4L6.3,-2.2L5.4,0.4L3.7,3.9L1.9,5.7L1.7,6.1L1.7,6.4L1.6,6.5L1.7,6.6L1.7,6.9L1.8,7.1L2.2,7.5L2.4,7.6L2.8,7.6L2.8,7.7L2.9,7.6L3.2,7.6L3.6,7.4L5.5,5.5L5.4,5.4L5.8,5.2L6.1,4.6L7.6,2.3L9.6,-1.6L9.6,-1.9L9.6,-1.9L9.6,-2.2L9.7,-2.2L9.7,-2.5L9.8,-2.6L9.8,-2.8L9.8,-2.9L9.8,-3.1L9.9,-3.2L9.9,-3.4L9.9,-3.5L9.9,-3.8L10.0,-3.8L10.0,-4.1L10.1,-4.1L10.1,-4.4L10.1,-4.4L10.1,-4.7L10.2,-4.8L10.2,-5.0L10.2,-5.1L10.2,-5.3L10.3,-5.4L10.3,-5.6L10.4,-6.0L10.4,-6.4L10.5,-6.5L10.5,-10.2L10.4,-10.3L10.4,-10.8L10.4,-10.8L10.4,-11.1L10.3,-11.1L10.3,-11.4L10.2,-11.4L10.2,-11.7L10.2,-11.8L10.2,-12.0L10.1,-12.1L10.1,-12.3L10.1,-12.4L10.1,-12.6L10.0,-12.7L10.0,-12.9L9.9,-13.0L9.9,-13.2L9.9,-13.3L9.9,-13.6L9.8,-13.6L9.8,-13.9L9.8,-13.9L9.6,-15.1L9.4,-15.3L9.4,-15.4L7.6,-19.1L7.5,-19.2L7.5,-19.3L5.8,-21.9L5.4,-22.2L5.5,-22.2L3.4,-24.2L3.2,-24.4L2.9,-24.4Z" fill="#000" fill-rule="evenodd" transform="translate(18.90,277.05) rotate(-90.00) translate(-5.27,8.38) scale(0.870,1.000)"/>
</svg>
</body></html>
